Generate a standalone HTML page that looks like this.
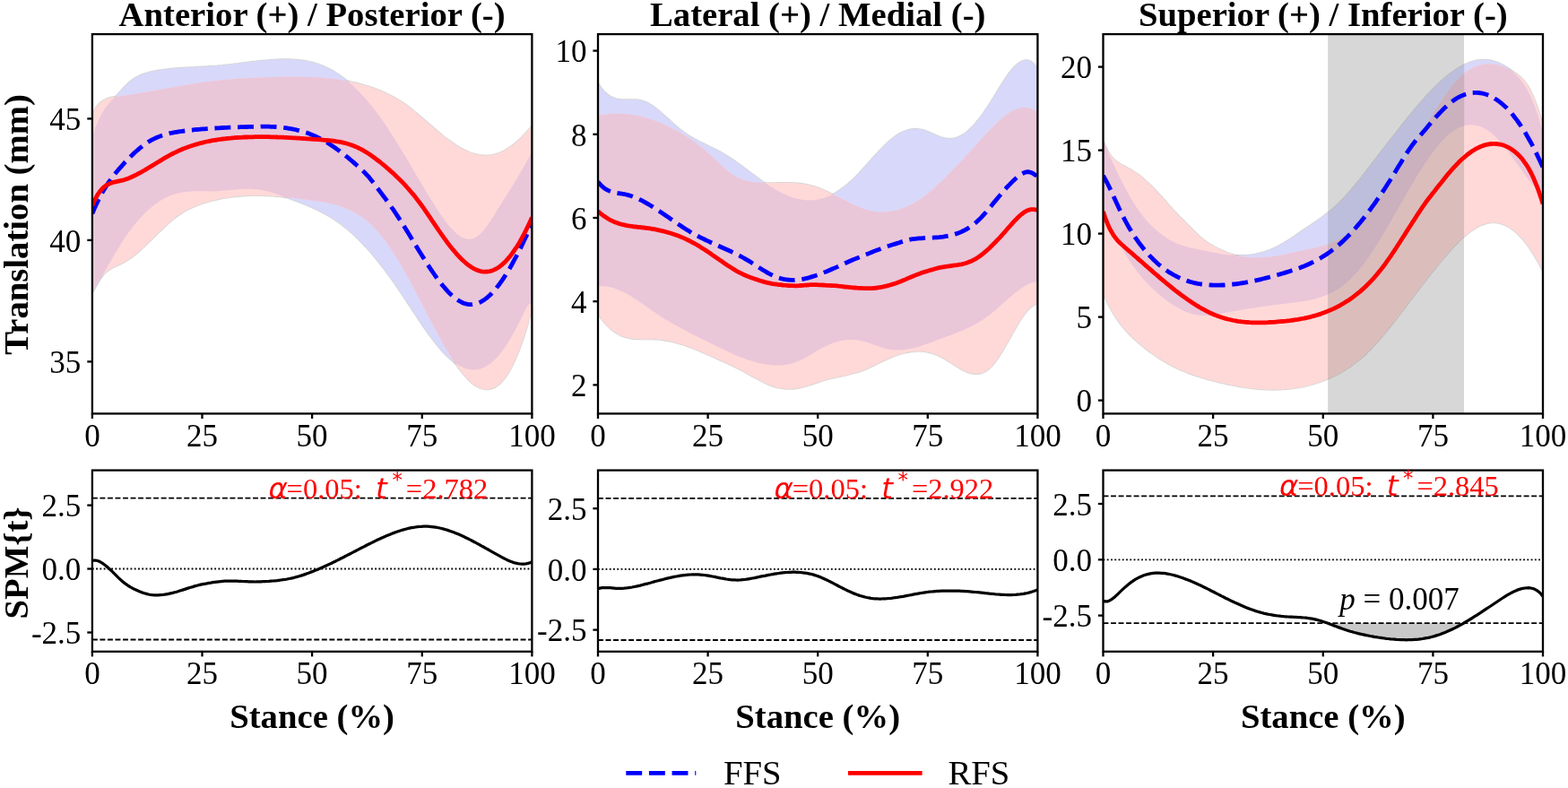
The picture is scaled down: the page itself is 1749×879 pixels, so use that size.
<!DOCTYPE html>
<html lang="en">
<head>
<meta charset="utf-8">
<title>Translation during stance: FFS vs RFS</title>
<style>
html,body{margin:0;padding:0;background:#fff;}
body{width:1749px;height:879px;overflow:hidden;}
svg{display:block;}
</style>
</head>
<body>
<svg width="1749" height="879" viewBox="0 0 1749 879">
<rect width="1749" height="879" fill="#fff"/>
<defs>
<clipPath id="ct0"><rect x="102.9" y="38.1" width="490.5" height="423.3"/></clipPath>
<clipPath id="cb0"><rect x="102.9" y="524.6" width="490.5" height="202.2"/></clipPath>
<clipPath id="ct1"><rect x="667.0" y="38.1" width="490.4" height="423.3"/></clipPath>
<clipPath id="cb1"><rect x="667.0" y="524.6" width="490.4" height="202.2"/></clipPath>
<clipPath id="ct2"><rect x="1230.5" y="38.1" width="490.5" height="423.3"/></clipPath>
<clipPath id="cb2"><rect x="1230.5" y="524.6" width="490.5" height="202.2"/></clipPath>
</defs>
<g>
<defs><path id="bp0" d="M102.9,152.8 L105.8,144.1 L108.7,136.7 L111.6,130.4 L114.5,125.0 L117.4,120.5 L120.3,116.7 L123.2,113.4 L126.1,110.3 L129.0,107.3 L131.9,104.3 L134.8,101.1 L137.7,97.9 L140.6,94.9 L143.5,92.1 L146.4,89.7 L149.3,87.6 L152.2,85.9 L155.1,84.4 L158.0,83.1 L160.9,82.0 L163.8,81.2 L166.8,80.4 L169.7,79.8 L172.6,79.2 L175.5,78.7 L178.4,78.2 L181.3,77.8 L184.2,77.4 L187.1,77.0 L190.0,76.7 L192.9,76.4 L195.8,76.1 L198.7,75.9 L201.6,75.7 L204.5,75.5 L207.4,75.3 L210.3,75.2 L213.2,75.0 L216.1,74.9 L219.0,74.7 L221.9,74.6 L224.8,74.4 L227.7,74.3 L230.6,74.1 L233.5,73.9 L236.4,73.7 L239.3,73.5 L242.2,73.3 L245.1,73.0 L248.0,72.8 L250.9,72.5 L253.8,72.2 L256.7,71.8 L259.6,71.5 L262.5,71.1 L265.4,70.8 L268.3,70.4 L271.2,70.0 L274.1,69.7 L277.0,69.3 L279.9,68.9 L282.8,68.6 L285.7,68.3 L288.7,67.9 L291.6,67.6 L294.5,67.3 L297.4,67.1 L300.3,66.8 L303.2,66.6 L306.1,66.5 L309.0,66.3 L311.9,66.2 L314.8,66.1 L317.7,66.1 L320.6,66.1 L323.5,66.2 L326.4,66.3 L329.3,66.5 L332.2,66.7 L335.1,67.0 L338.0,67.4 L340.9,67.9 L343.8,68.5 L346.7,69.1 L349.6,69.9 L352.5,70.7 L355.4,71.6 L358.3,72.7 L361.2,73.9 L364.1,75.2 L367.0,76.6 L369.9,78.1 L372.8,79.8 L375.7,81.6 L378.6,83.5 L381.5,85.6 L384.4,87.8 L387.3,90.1 L390.2,92.6 L393.1,95.1 L396.0,97.9 L398.9,100.7 L401.8,103.7 L404.7,106.8 L407.6,110.0 L410.6,113.4 L413.5,116.9 L416.4,120.5 L419.3,124.3 L422.2,128.2 L425.1,132.2 L428.0,136.3 L430.9,140.6 L433.8,145.0 L436.7,149.4 L439.6,154.0 L442.5,158.7 L445.4,163.4 L448.3,168.2 L451.2,173.0 L454.1,177.8 L457.0,182.7 L459.9,187.7 L462.8,192.6 L465.7,197.5 L468.6,202.4 L471.5,207.3 L474.4,212.1 L477.3,216.9 L480.2,221.6 L483.1,226.3 L486.0,230.9 L488.9,235.3 L491.8,239.7 L494.7,243.8 L497.6,247.7 L500.5,251.4 L503.4,254.7 L506.3,257.8 L509.2,260.4 L512.1,262.7 L515.0,264.5 L517.9,265.8 L520.8,266.5 L523.7,266.8 L526.6,266.4 L529.5,265.3 L532.5,263.7 L535.4,261.3 L538.3,258.2 L541.2,254.7 L544.1,250.8 L547.0,246.5 L549.9,242.0 L552.8,237.3 L555.7,232.6 L558.6,228.0 L561.5,223.4 L564.4,218.8 L567.3,214.2 L570.2,209.5 L573.1,204.9 L576.0,200.1 L578.9,195.3 L581.8,190.3 L584.7,185.2 L587.6,180.0 L590.5,174.6 L593.4,169.0 L593.4,338.8 L590.5,338.7 L587.6,342.4 L584.7,348.1 L581.8,354.2 L578.9,360.1 L576.0,365.8 L573.1,371.2 L570.2,376.3 L567.3,381.1 L564.4,385.7 L561.5,389.9 L558.6,393.7 L555.7,397.2 L552.8,400.3 L549.9,403.1 L547.0,405.4 L544.1,407.5 L541.2,409.1 L538.3,410.4 L535.4,411.4 L532.5,412.1 L529.5,412.4 L526.6,412.4 L523.7,412.1 L520.8,411.4 L517.9,410.5 L515.0,409.3 L512.1,407.8 L509.2,406.0 L506.3,404.0 L503.4,401.7 L500.5,399.1 L497.6,396.3 L494.7,393.3 L491.8,390.1 L488.9,386.8 L486.0,383.2 L483.1,379.5 L480.2,375.6 L477.3,371.7 L474.4,367.6 L471.5,363.4 L468.6,359.1 L465.7,354.8 L462.8,350.4 L459.9,346.0 L457.0,341.6 L454.1,337.2 L451.2,332.8 L448.3,328.4 L445.4,324.1 L442.5,319.8 L439.6,315.6 L436.7,311.5 L433.8,307.5 L430.9,303.5 L428.0,299.7 L425.1,295.9 L422.2,292.2 L419.3,288.6 L416.4,285.1 L413.5,281.7 L410.6,278.4 L407.6,275.2 L404.7,272.1 L401.8,269.1 L398.9,266.2 L396.0,263.4 L393.1,260.7 L390.2,258.1 L387.3,255.7 L384.4,253.3 L381.5,251.0 L378.6,248.9 L375.7,246.9 L372.8,244.9 L369.9,243.0 L367.0,241.3 L364.1,239.6 L361.2,238.0 L358.3,236.5 L355.4,235.0 L352.5,233.6 L349.6,232.2 L346.7,230.9 L343.8,229.7 L340.9,228.5 L338.0,227.3 L335.1,226.1 L332.2,225.0 L329.3,223.9 L326.4,222.9 L323.5,221.8 L320.6,220.7 L317.7,219.7 L314.8,218.7 L311.9,217.6 L309.0,216.7 L306.1,215.7 L303.2,214.8 L300.3,214.0 L297.4,213.3 L294.5,212.6 L291.6,212.0 L288.7,211.5 L285.7,211.1 L282.8,210.9 L279.9,210.7 L277.0,210.6 L274.1,210.7 L271.2,210.8 L268.3,210.9 L265.4,211.2 L262.5,211.4 L259.6,211.7 L256.7,212.0 L253.8,212.3 L250.9,212.6 L248.0,212.8 L245.1,213.0 L242.2,213.2 L239.3,213.3 L236.4,213.4 L233.5,213.4 L230.6,213.3 L227.7,213.3 L224.8,213.3 L221.9,213.3 L219.0,213.3 L216.1,213.3 L213.2,213.5 L210.3,213.7 L207.4,213.9 L204.5,214.3 L201.6,214.9 L198.7,215.5 L195.8,216.3 L192.9,217.2 L190.0,218.3 L187.1,219.6 L184.2,221.0 L181.3,222.6 L178.4,224.3 L175.5,226.2 L172.6,228.3 L169.7,230.6 L166.8,233.0 L163.8,235.6 L160.9,238.4 L158.0,241.4 L155.1,244.6 L152.2,247.9 L149.3,251.5 L146.4,255.3 L143.5,259.2 L140.6,263.4 L137.7,267.7 L134.8,272.3 L131.9,276.9 L129.0,281.7 L126.1,286.7 L123.2,291.6 L120.3,296.7 L117.4,301.7 L114.5,306.8 L111.6,311.9 L108.7,316.8 L105.8,321.8 L102.9,326.6Z"/><path id="rp0" d="M102.9,126.8 L105.8,121.8 L108.7,117.8 L111.6,114.7 L114.5,112.4 L117.4,110.7 L120.3,109.5 L123.2,108.7 L126.1,108.2 L129.0,107.8 L131.9,107.5 L134.8,107.1 L137.7,106.7 L140.6,106.3 L143.5,105.9 L146.4,105.5 L149.3,105.0 L152.2,104.6 L155.1,104.1 L158.0,103.6 L160.9,103.1 L163.8,102.6 L166.8,102.1 L169.7,101.6 L172.6,101.1 L175.5,100.6 L178.4,100.0 L181.3,99.5 L184.2,99.0 L187.1,98.4 L190.0,97.9 L192.9,97.4 L195.8,96.9 L198.7,96.3 L201.6,95.8 L204.5,95.3 L207.4,94.8 L210.3,94.4 L213.2,93.9 L216.1,93.4 L219.0,93.0 L221.9,92.5 L224.8,92.1 L227.7,91.7 L230.6,91.3 L233.5,90.9 L236.4,90.6 L239.3,90.3 L242.2,89.9 L245.1,89.6 L248.0,89.3 L250.9,89.0 L253.8,88.8 L256.7,88.5 L259.6,88.3 L262.5,88.0 L265.4,87.8 L268.3,87.6 L271.2,87.4 L274.1,87.2 L277.0,87.1 L279.9,86.9 L282.8,86.8 L285.7,86.6 L288.7,86.5 L291.6,86.4 L294.5,86.3 L297.4,86.2 L300.3,86.1 L303.2,86.0 L306.1,86.0 L309.0,85.9 L311.9,85.8 L314.8,85.8 L317.7,85.8 L320.6,85.7 L323.5,85.7 L326.4,85.7 L329.3,85.7 L332.2,85.7 L335.1,85.8 L338.0,85.8 L340.9,85.9 L343.8,86.0 L346.7,86.1 L349.6,86.2 L352.5,86.3 L355.4,86.5 L358.3,86.7 L361.2,86.9 L364.1,87.2 L367.0,87.5 L369.9,87.8 L372.8,88.1 L375.7,88.5 L378.6,88.9 L381.5,89.4 L384.4,89.9 L387.3,90.4 L390.2,90.9 L393.1,91.5 L396.0,92.2 L398.9,92.9 L401.8,93.6 L404.7,94.4 L407.6,95.2 L410.6,96.1 L413.5,97.0 L416.4,98.0 L419.3,99.1 L422.2,100.2 L425.1,101.4 L428.0,102.7 L430.9,104.0 L433.8,105.5 L436.7,107.0 L439.6,108.6 L442.5,110.2 L445.4,112.0 L448.3,113.8 L451.2,115.8 L454.1,117.8 L457.0,120.0 L459.9,122.2 L462.8,124.6 L465.7,126.9 L468.6,129.4 L471.5,131.9 L474.4,134.4 L477.3,136.9 L480.2,139.5 L483.1,142.0 L486.0,144.5 L488.9,147.0 L491.8,149.4 L494.7,151.8 L497.6,154.1 L500.5,156.3 L503.4,158.3 L506.3,160.3 L509.2,162.2 L512.1,164.0 L515.0,165.6 L517.9,167.1 L520.8,168.5 L523.7,169.7 L526.6,170.7 L529.5,171.6 L532.5,172.3 L535.4,172.8 L538.3,173.2 L541.2,173.4 L544.1,173.3 L547.0,173.1 L549.9,172.6 L552.8,171.9 L555.7,171.0 L558.6,169.8 L561.5,168.4 L564.4,166.8 L567.3,165.0 L570.2,163.0 L573.1,160.8 L576.0,158.4 L578.9,155.8 L581.8,153.0 L584.7,150.1 L587.6,147.0 L590.5,143.8 L593.4,140.4 L593.4,344.3 L590.5,355.3 L587.6,365.5 L584.7,374.9 L581.8,383.5 L578.9,391.4 L576.0,398.5 L573.1,405.0 L570.2,410.7 L567.3,415.7 L564.4,420.1 L561.5,423.9 L558.6,427.1 L555.7,429.6 L552.8,431.7 L549.9,433.1 L547.0,434.0 L544.1,434.4 L541.2,434.4 L538.3,433.8 L535.4,432.9 L532.5,431.5 L529.5,429.7 L526.6,427.5 L523.7,424.9 L520.8,422.0 L517.9,418.8 L515.0,415.3 L512.1,411.5 L509.2,407.5 L506.3,403.2 L503.4,398.7 L500.5,394.0 L497.6,389.1 L494.7,384.0 L491.8,378.9 L488.9,373.6 L486.0,368.2 L483.1,362.8 L480.2,357.3 L477.3,351.7 L474.4,346.2 L471.5,340.6 L468.6,335.0 L465.7,329.5 L462.8,324.0 L459.9,318.5 L457.0,313.1 L454.1,307.8 L451.2,302.6 L448.3,297.5 L445.4,292.5 L442.5,287.7 L439.6,283.0 L436.7,278.5 L433.8,274.2 L430.9,270.1 L428.0,266.2 L425.1,262.5 L422.2,259.1 L419.3,255.9 L416.4,252.9 L413.5,250.1 L410.6,247.5 L407.6,245.1 L404.7,242.9 L401.8,240.9 L398.9,239.0 L396.0,237.3 L393.1,235.7 L390.2,234.3 L387.3,232.9 L384.4,231.8 L381.5,230.7 L378.6,229.7 L375.7,228.8 L372.8,228.0 L369.9,227.3 L367.0,226.7 L364.1,226.1 L361.2,225.6 L358.3,225.1 L355.4,224.6 L352.5,224.2 L349.6,223.8 L346.7,223.4 L343.8,223.0 L340.9,222.6 L338.0,222.2 L335.1,221.9 L332.2,221.5 L329.3,221.1 L326.4,220.8 L323.5,220.5 L320.6,220.2 L317.7,219.9 L314.8,219.6 L311.9,219.4 L309.0,219.1 L306.1,218.9 L303.2,218.7 L300.3,218.6 L297.4,218.4 L294.5,218.3 L291.6,218.2 L288.7,218.2 L285.7,218.2 L282.8,218.2 L279.9,218.2 L277.0,218.3 L274.1,218.5 L271.2,218.6 L268.3,218.8 L265.4,219.1 L262.5,219.3 L259.6,219.7 L256.7,220.0 L253.8,220.5 L250.9,220.9 L248.0,221.4 L245.1,222.0 L242.2,222.6 L239.3,223.3 L236.4,224.0 L233.5,224.8 L230.6,225.6 L227.7,226.5 L224.8,227.5 L221.9,228.5 L219.0,229.6 L216.1,230.8 L213.2,232.1 L210.3,233.5 L207.4,235.0 L204.5,236.7 L201.6,238.5 L198.7,240.5 L195.8,242.6 L192.9,244.9 L190.0,247.4 L187.1,249.9 L184.2,252.6 L181.3,255.3 L178.4,258.1 L175.5,261.0 L172.6,263.9 L169.7,266.7 L166.8,269.6 L163.8,272.4 L160.9,275.2 L158.0,277.9 L155.1,280.5 L152.2,283.0 L149.3,285.3 L146.4,287.5 L143.5,289.5 L140.6,291.3 L137.7,292.9 L134.8,294.4 L131.9,295.8 L129.0,297.1 L126.1,298.6 L123.2,300.2 L120.3,302.2 L117.4,304.5 L114.5,307.4 L111.6,310.9 L108.7,315.3 L105.8,320.6 L102.9,327.0Z"/><clipPath id="bb0"><use href="#bp0"/></clipPath></defs>
<g clip-path="url(#ct0)">
<use href="#bp0" fill="none" stroke="#808080" stroke-opacity="0.32" stroke-width="1.7"/>
<use href="#rp0" fill="none" stroke="#808080" stroke-opacity="0.32" stroke-width="1.7"/>
<use href="#bp0" fill="#d8d8fa"/>
<use href="#rp0" fill="#ffd9d8"/>
<g clip-path="url(#bb0)"><use href="#rp0" fill="#eac6d9"/></g>
</g>
<path d="M102.9,238.4 L105.1,233.1 L107.4,228.1 L109.6,223.4 L111.9,219.0 L114.1,214.9 L116.3,211.1 L118.6,207.5 L120.8,204.0 L123.1,200.8 L125.3,197.8 L127.5,194.9 L129.8,192.1 L132.0,189.4 L134.3,186.8 L136.5,184.3 L138.7,181.8 L141.0,179.4 L143.2,177.1 L145.5,174.8 L147.7,172.7 L149.9,170.5 L152.2,168.5 L154.4,166.6 L156.7,164.7 L158.9,163.0 L161.1,161.3 L163.4,159.8 L165.6,158.3 L167.9,156.9 L170.1,155.7 L172.3,154.6 L174.6,153.5 L176.8,152.6 L179.1,151.7 L181.3,151.0 L183.5,150.3 L185.8,149.6 L188.0,149.1 L190.2,148.5 L192.5,148.1 L194.7,147.7 L197.0,147.3 L199.2,146.9 L201.4,146.6 L203.7,146.3 L205.9,146.0 L208.2,145.7 L210.4,145.5 L212.6,145.2 L214.9,145.0 L217.1,144.7 L219.4,144.5 L221.6,144.3 L223.8,144.1 L226.1,143.9 L228.3,143.8 L230.6,143.6 L232.8,143.4 L235.0,143.3 L237.3,143.1 L239.5,143.0 L241.8,142.9 L244.0,142.8 L246.2,142.6 L248.5,142.5 L250.7,142.4 L253.0,142.3 L255.2,142.2 L257.4,142.1 L259.7,142.0 L261.9,142.0 L264.2,141.9 L266.4,141.8 L268.6,141.7 L270.9,141.6 L273.1,141.6 L275.4,141.5 L277.6,141.4 L279.8,141.3 L282.1,141.3 L284.3,141.2 L286.6,141.2 L288.8,141.2 L291.0,141.1 L293.3,141.1 L295.5,141.2 L297.8,141.2 L300.0,141.2 L302.2,141.3 L304.5,141.4 L306.7,141.5 L309.0,141.7 L311.2,141.9 L313.4,142.1 L315.7,142.3 L317.9,142.6 L320.2,142.9 L322.4,143.3 L324.6,143.7 L326.9,144.1 L329.1,144.5 L331.4,145.1 L333.6,145.6 L335.8,146.2 L338.1,146.9 L340.3,147.6 L342.6,148.3 L344.8,149.1 L347.0,150.0 L349.3,150.9 L351.5,151.9 L353.7,153.0 L356.0,154.1 L358.2,155.2 L360.5,156.5 L362.7,157.7 L364.9,159.1 L367.2,160.5 L369.4,161.9 L371.7,163.4 L373.9,165.0 L376.1,166.6 L378.4,168.2 L380.6,169.9 L382.9,171.7 L385.1,173.4 L387.3,175.2 L389.6,177.1 L391.8,179.0 L394.1,180.9 L396.3,182.9 L398.5,184.8 L400.8,186.8 L403.0,188.9 L405.3,191.1 L407.5,193.3 L409.7,195.7 L412.0,198.2 L414.2,200.9 L416.5,203.8 L418.7,206.7 L420.9,209.7 L423.2,212.7 L425.4,215.7 L427.7,218.7 L429.9,221.7 L432.1,224.7 L434.4,227.8 L436.6,231.0 L438.9,234.2 L441.1,237.5 L443.3,240.9 L445.6,244.3 L447.8,247.8 L450.1,251.4 L452.3,255.0 L454.5,258.6 L456.8,262.3 L459.0,265.9 L461.3,269.6 L463.5,273.3 L465.7,277.0 L468.0,280.7 L470.2,284.3 L472.5,287.9 L474.7,291.4 L476.9,294.9 L479.2,298.4 L481.4,301.7 L483.7,305.0 L485.9,308.2 L488.1,311.3 L490.4,314.2 L492.6,317.1 L494.9,319.8 L497.1,322.4 L499.3,324.9 L501.6,327.2 L503.8,329.3 L506.1,331.3 L508.3,333.1 L510.5,334.6 L512.8,336.0 L515.0,337.2 L517.2,338.2 L519.5,338.9 L521.7,339.4 L524.0,339.7 L526.2,339.7 L528.4,339.4 L530.7,339.0 L532.9,338.2 L535.2,337.3 L537.4,336.1 L539.6,334.7 L541.9,333.1 L544.1,331.3 L546.4,329.2 L548.6,327.0 L550.8,324.6 L553.1,322.0 L555.3,319.2 L557.6,316.2 L559.8,313.1 L562.0,309.8 L564.3,306.3 L566.5,302.7 L568.8,298.9 L571.0,295.0 L573.2,290.9 L575.5,286.7 L577.7,282.4 L580.0,278.0 L582.2,273.4 L584.4,268.8 L586.7,264.0 L588.9,259.1 L591.2,254.1 L593.4,249.1" fill="none" stroke="#0000ff" stroke-width="4.8" stroke-linejoin="round" stroke-dasharray="17.9 7.73" clip-path="url(#ct0)"/>
<path d="M102.9,229.4 L105.1,224.3 L107.4,219.8 L109.6,216.1 L111.9,213.0 L114.1,210.4 L116.3,208.4 L118.6,206.7 L120.8,205.5 L123.1,204.5 L125.3,203.7 L127.5,203.2 L129.8,202.7 L132.0,202.2 L134.3,201.7 L136.5,201.2 L138.7,200.5 L141.0,199.7 L143.2,198.9 L145.5,198.0 L147.7,197.0 L149.9,196.0 L152.2,194.9 L154.4,193.7 L156.7,192.5 L158.9,191.2 L161.1,190.0 L163.4,188.6 L165.6,187.3 L167.9,185.9 L170.1,184.6 L172.3,183.2 L174.6,181.8 L176.8,180.5 L179.1,179.1 L181.3,177.7 L183.5,176.4 L185.8,175.1 L188.0,173.9 L190.2,172.7 L192.5,171.5 L194.7,170.4 L197.0,169.3 L199.2,168.2 L201.4,167.3 L203.7,166.3 L205.9,165.4 L208.2,164.6 L210.4,163.7 L212.6,163.0 L214.9,162.2 L217.1,161.5 L219.4,160.9 L221.6,160.2 L223.8,159.6 L226.1,159.1 L228.3,158.5 L230.6,158.0 L232.8,157.6 L235.0,157.1 L237.3,156.7 L239.5,156.3 L241.8,156.0 L244.0,155.6 L246.2,155.3 L248.5,155.0 L250.7,154.8 L253.0,154.5 L255.2,154.3 L257.4,154.1 L259.7,153.9 L261.9,153.7 L264.2,153.5 L266.4,153.4 L268.6,153.3 L270.9,153.1 L273.1,153.0 L275.4,153.0 L277.6,152.9 L279.8,152.8 L282.1,152.8 L284.3,152.7 L286.6,152.7 L288.8,152.7 L291.0,152.7 L293.3,152.7 L295.5,152.7 L297.8,152.7 L300.0,152.7 L302.2,152.8 L304.5,152.8 L306.7,152.9 L309.0,153.0 L311.2,153.1 L313.4,153.1 L315.7,153.2 L317.9,153.3 L320.2,153.4 L322.4,153.6 L324.6,153.7 L326.9,153.8 L329.1,153.9 L331.4,154.1 L333.6,154.2 L335.8,154.3 L338.1,154.5 L340.3,154.6 L342.6,154.8 L344.8,154.9 L347.0,155.1 L349.3,155.3 L351.5,155.4 L353.7,155.6 L356.0,155.7 L358.2,155.9 L360.5,156.1 L362.7,156.3 L364.9,156.5 L367.2,156.7 L369.4,156.9 L371.7,157.2 L373.9,157.5 L376.1,157.9 L378.4,158.2 L380.6,158.7 L382.9,159.2 L385.1,159.7 L387.3,160.3 L389.6,161.0 L391.8,161.7 L394.1,162.6 L396.3,163.5 L398.5,164.4 L400.8,165.5 L403.0,166.7 L405.3,167.9 L407.5,169.2 L409.7,170.6 L412.0,172.1 L414.2,173.6 L416.5,175.2 L418.7,176.8 L420.9,178.5 L423.2,180.2 L425.4,182.0 L427.7,183.9 L429.9,185.7 L432.1,187.6 L434.4,189.6 L436.6,191.6 L438.9,193.6 L441.1,195.7 L443.3,197.9 L445.6,200.1 L447.8,202.3 L450.1,204.7 L452.3,207.0 L454.5,209.5 L456.8,212.1 L459.0,214.7 L461.3,217.4 L463.5,220.1 L465.7,223.0 L468.0,226.0 L470.2,229.0 L472.5,232.2 L474.7,235.4 L476.9,238.6 L479.2,241.9 L481.4,245.3 L483.7,248.6 L485.9,251.9 L488.1,255.2 L490.4,258.5 L492.6,261.7 L494.9,264.9 L497.1,267.9 L499.3,271.0 L501.6,273.9 L503.8,276.7 L506.1,279.4 L508.3,282.1 L510.5,284.6 L512.8,287.0 L515.0,289.2 L517.2,291.3 L519.5,293.3 L521.7,295.1 L524.0,296.8 L526.2,298.3 L528.4,299.6 L530.7,300.7 L532.9,301.6 L535.2,302.3 L537.4,302.8 L539.6,303.1 L541.9,303.2 L544.1,303.0 L546.4,302.6 L548.6,302.0 L550.8,301.1 L553.1,300.0 L555.3,298.7 L557.6,297.2 L559.8,295.4 L562.0,293.4 L564.3,291.2 L566.5,288.7 L568.8,286.0 L571.0,283.1 L573.2,280.0 L575.5,276.7 L577.7,273.2 L580.0,269.4 L582.2,265.4 L584.4,261.3 L586.7,256.9 L588.9,252.3 L591.2,247.5 L593.4,242.5" fill="none" stroke="#ff0000" stroke-width="4.8" stroke-linejoin="round" clip-path="url(#ct0)"/>
<rect x="102.9" y="38.1" width="490.5" height="423.3" fill="none" stroke="#000" stroke-width="2.3"/>
<line x1="102.9" y1="461.4" x2="102.9" y2="467.0" stroke="#000" stroke-width="2.3"/>
<text x="102.9" y="497.6" font-family='"Liberation Serif", serif' font-size="35" font-weight="normal" font-style="normal" text-anchor="middle" fill="#000">0</text>
<line x1="225.5" y1="461.4" x2="225.5" y2="467.0" stroke="#000" stroke-width="2.3"/>
<text x="225.5" y="497.6" font-family='"Liberation Serif", serif' font-size="35" font-weight="normal" font-style="normal" text-anchor="middle" fill="#000">25</text>
<line x1="348.1" y1="461.4" x2="348.1" y2="467.0" stroke="#000" stroke-width="2.3"/>
<text x="348.1" y="497.6" font-family='"Liberation Serif", serif' font-size="35" font-weight="normal" font-style="normal" text-anchor="middle" fill="#000">50</text>
<line x1="470.8" y1="461.4" x2="470.8" y2="467.0" stroke="#000" stroke-width="2.3"/>
<text x="470.8" y="497.6" font-family='"Liberation Serif", serif' font-size="35" font-weight="normal" font-style="normal" text-anchor="middle" fill="#000">75</text>
<line x1="593.4" y1="461.4" x2="593.4" y2="467.0" stroke="#000" stroke-width="2.3"/>
<text x="593.4" y="497.6" font-family='"Liberation Serif", serif' font-size="35" font-weight="normal" font-style="normal" text-anchor="middle" fill="#000">100</text>
<line x1="97.3" y1="403.4" x2="102.9" y2="403.4" stroke="#000" stroke-width="2.3"/>
<text x="90.3" y="416.2" font-family='"Liberation Serif", serif' font-size="35" font-weight="normal" font-style="normal" text-anchor="end" fill="#000">35</text>
<line x1="97.3" y1="267.9" x2="102.9" y2="267.9" stroke="#000" stroke-width="2.3"/>
<text x="90.3" y="280.7" font-family='"Liberation Serif", serif' font-size="35" font-weight="normal" font-style="normal" text-anchor="end" fill="#000">40</text>
<line x1="97.3" y1="132.4" x2="102.9" y2="132.4" stroke="#000" stroke-width="2.3"/>
<text x="90.3" y="145.2" font-family='"Liberation Serif", serif' font-size="35" font-weight="normal" font-style="normal" text-anchor="end" fill="#000">45</text>
<text x="348.1" y="29.3" font-family='"Liberation Serif", serif' font-size="38.7" font-weight="bold" font-style="normal" text-anchor="middle" fill="#000">Anterior (+) / Posterior (-)</text>
</g>
<g>
<line x1="102.9" y1="634.5" x2="593.4" y2="634.5" stroke="#000" stroke-width="1.85" stroke-dasharray="1.85 2.41"/>
<line x1="102.9" y1="555.6" x2="593.4" y2="555.6" stroke="#000" stroke-width="1.8" stroke-dasharray="5.95 2.58"/>
<line x1="102.9" y1="713.5" x2="593.4" y2="713.5" stroke="#000" stroke-width="1.8" stroke-dasharray="5.95 2.58"/>
<path d="M102.9,625.3 L105.1,625.0 L107.4,625.2 L109.6,625.8 L111.9,626.8 L114.1,628.1 L116.3,629.7 L118.6,631.5 L120.8,633.5 L123.1,635.5 L125.3,637.7 L127.5,639.9 L129.8,642.2 L132.0,644.4 L134.3,646.5 L136.5,648.4 L138.7,650.3 L141.0,651.9 L143.2,653.5 L145.5,654.9 L147.7,656.1 L149.9,657.3 L152.2,658.3 L154.4,659.3 L156.7,660.2 L158.9,661.1 L161.1,661.8 L163.4,662.4 L165.6,663.0 L167.9,663.4 L170.1,663.7 L172.3,663.9 L174.6,663.9 L176.8,663.9 L179.1,663.7 L181.3,663.5 L183.5,663.2 L185.8,662.8 L188.0,662.4 L190.2,661.9 L192.5,661.4 L194.7,660.8 L197.0,660.2 L199.2,659.5 L201.4,658.8 L203.7,658.1 L205.9,657.4 L208.2,656.6 L210.4,655.9 L212.6,655.2 L214.9,654.6 L217.1,653.9 L219.4,653.3 L221.6,652.7 L223.8,652.2 L226.1,651.7 L228.3,651.3 L230.6,650.9 L232.8,650.4 L235.0,650.1 L237.3,649.7 L239.5,649.4 L241.8,649.1 L244.0,648.8 L246.2,648.6 L248.5,648.4 L250.7,648.2 L253.0,648.1 L255.2,648.1 L257.4,648.0 L259.7,648.1 L261.9,648.1 L264.2,648.2 L266.4,648.3 L268.6,648.4 L270.9,648.5 L273.1,648.6 L275.4,648.7 L277.6,648.8 L279.8,648.9 L282.1,648.9 L284.3,649.0 L286.6,648.9 L288.8,648.9 L291.0,648.8 L293.3,648.7 L295.5,648.6 L297.8,648.5 L300.0,648.4 L302.2,648.2 L304.5,648.0 L306.7,647.8 L309.0,647.6 L311.2,647.3 L313.4,647.0 L315.7,646.7 L317.9,646.4 L320.2,646.0 L322.4,645.5 L324.6,645.1 L326.9,644.6 L329.1,644.0 L331.4,643.4 L333.6,642.8 L335.8,642.1 L338.1,641.4 L340.3,640.6 L342.6,639.8 L344.8,639.0 L347.0,638.1 L349.3,637.3 L351.5,636.3 L353.7,635.4 L356.0,634.5 L358.2,633.5 L360.5,632.5 L362.7,631.5 L364.9,630.5 L367.2,629.4 L369.4,628.4 L371.7,627.3 L373.9,626.2 L376.1,625.1 L378.4,624.0 L380.6,622.8 L382.9,621.7 L385.1,620.5 L387.3,619.4 L389.6,618.2 L391.8,617.1 L394.1,615.9 L396.3,614.8 L398.5,613.6 L400.8,612.4 L403.0,611.3 L405.3,610.1 L407.5,609.0 L409.7,607.8 L412.0,606.7 L414.2,605.6 L416.5,604.5 L418.7,603.4 L420.9,602.3 L423.2,601.3 L425.4,600.2 L427.7,599.2 L429.9,598.2 L432.1,597.3 L434.4,596.4 L436.6,595.5 L438.9,594.6 L441.1,593.8 L443.3,593.0 L445.6,592.2 L447.8,591.5 L450.1,590.9 L452.3,590.3 L454.5,589.7 L456.8,589.2 L459.0,588.7 L461.3,588.3 L463.5,588.0 L465.7,587.7 L468.0,587.5 L470.2,587.3 L472.5,587.2 L474.7,587.2 L476.9,587.2 L479.2,587.4 L481.4,587.6 L483.7,587.8 L485.9,588.1 L488.1,588.5 L490.4,589.0 L492.6,589.5 L494.9,590.1 L497.1,590.7 L499.3,591.4 L501.6,592.2 L503.8,593.0 L506.1,593.8 L508.3,594.7 L510.5,595.6 L512.8,596.6 L515.0,597.6 L517.2,598.6 L519.5,599.7 L521.7,600.8 L524.0,601.9 L526.2,603.0 L528.4,604.2 L530.7,605.4 L532.9,606.6 L535.2,607.8 L537.4,609.1 L539.6,610.3 L541.9,611.6 L544.1,612.8 L546.4,614.1 L548.6,615.4 L550.8,616.6 L553.1,617.9 L555.3,619.1 L557.6,620.4 L559.8,621.6 L562.0,622.8 L564.3,623.9 L566.5,625.0 L568.8,625.9 L571.0,626.8 L573.2,627.6 L575.5,628.2 L577.7,628.7 L580.0,629.0 L582.2,629.1 L584.4,629.1 L586.7,628.9 L588.9,628.4 L591.2,627.7 L593.4,626.7" fill="none" stroke="#000" stroke-width="3.25" stroke-linejoin="round" clip-path="url(#cb0)"/>
<rect x="102.9" y="524.6" width="490.5" height="202.2" fill="none" stroke="#000" stroke-width="2.3"/>
<line x1="102.9" y1="726.8" x2="102.9" y2="732.4" stroke="#000" stroke-width="2.3"/>
<text x="102.9" y="763.0" font-family='"Liberation Serif", serif' font-size="35" font-weight="normal" font-style="normal" text-anchor="middle" fill="#000">0</text>
<line x1="225.5" y1="726.8" x2="225.5" y2="732.4" stroke="#000" stroke-width="2.3"/>
<text x="225.5" y="763.0" font-family='"Liberation Serif", serif' font-size="35" font-weight="normal" font-style="normal" text-anchor="middle" fill="#000">25</text>
<line x1="348.1" y1="726.8" x2="348.1" y2="732.4" stroke="#000" stroke-width="2.3"/>
<text x="348.1" y="763.0" font-family='"Liberation Serif", serif' font-size="35" font-weight="normal" font-style="normal" text-anchor="middle" fill="#000">50</text>
<line x1="470.8" y1="726.8" x2="470.8" y2="732.4" stroke="#000" stroke-width="2.3"/>
<text x="470.8" y="763.0" font-family='"Liberation Serif", serif' font-size="35" font-weight="normal" font-style="normal" text-anchor="middle" fill="#000">75</text>
<line x1="593.4" y1="726.8" x2="593.4" y2="732.4" stroke="#000" stroke-width="2.3"/>
<text x="593.4" y="763.0" font-family='"Liberation Serif", serif' font-size="35" font-weight="normal" font-style="normal" text-anchor="middle" fill="#000">100</text>
<line x1="97.3" y1="563.6" x2="102.9" y2="563.6" stroke="#000" stroke-width="2.3"/>
<text x="90.3" y="576.4" font-family='"Liberation Serif", serif' font-size="35" font-weight="normal" font-style="normal" text-anchor="end" fill="#000">2.5</text>
<line x1="97.3" y1="634.5" x2="102.9" y2="634.5" stroke="#000" stroke-width="2.3"/>
<text x="90.3" y="647.3" font-family='"Liberation Serif", serif' font-size="35" font-weight="normal" font-style="normal" text-anchor="end" fill="#000">0.0</text>
<line x1="97.3" y1="705.5" x2="102.9" y2="705.5" stroke="#000" stroke-width="2.3"/>
<text x="90.3" y="718.3" font-family='"Liberation Serif", serif' font-size="35" font-weight="normal" font-style="normal" text-anchor="end" fill="#000">-2.5</text>
<g fill="#ff0000" font-size="32.5" font-family='"Liberation Serif", serif'>
<text x="299.5" y="555.6" font-family='"DejaVu Sans", "Liberation Sans", sans-serif' font-style="italic" font-size="32.5">α</text>
<text x="319.6" y="555.6">=0.05:</text>
<text x="419.1" y="555.6" font-family='"DejaVu Sans", "Liberation Sans", sans-serif' font-style="italic" font-size="32.5">t</text>
<text x="437.4" y="543.1" font-family='"DejaVu Sans", "Liberation Sans", sans-serif' font-size="22.75">*</text>
<text x="452.8" y="555.6">=2.782</text>
</g>
<text x="348.1" y="811.5" font-family='"Liberation Serif", serif' font-size="38.7" font-weight="bold" font-style="normal" text-anchor="middle" fill="#000">Stance (%)</text>
</g>
<g>
<defs><path id="bp1" d="M667.0,92.4 L669.9,96.8 L672.8,100.5 L675.7,103.5 L678.6,105.9 L681.5,107.7 L684.4,109.1 L687.3,110.0 L690.2,110.6 L693.1,111.0 L696.0,111.1 L698.9,111.1 L701.8,111.0 L704.7,111.0 L707.6,111.0 L710.5,111.2 L713.4,111.5 L716.3,112.2 L719.2,113.2 L722.1,114.5 L725.0,116.1 L727.9,118.0 L730.8,120.0 L733.7,122.3 L736.6,124.7 L739.5,127.3 L742.4,129.9 L745.3,132.5 L748.2,135.2 L751.2,137.8 L754.1,140.4 L757.0,142.9 L759.9,145.3 L762.8,147.4 L765.7,149.5 L768.6,151.4 L771.5,153.1 L774.4,154.8 L777.3,156.3 L780.2,157.8 L783.1,159.2 L786.0,160.6 L788.9,162.0 L791.8,163.4 L794.7,164.8 L797.6,166.2 L800.5,167.7 L803.4,169.3 L806.3,170.9 L809.2,172.7 L812.1,174.5 L815.0,176.4 L817.9,178.3 L820.8,180.4 L823.7,182.4 L826.6,184.5 L829.5,186.7 L832.4,188.8 L835.3,191.0 L838.2,193.1 L841.1,195.3 L844.0,197.4 L846.9,199.5 L849.8,201.6 L852.7,203.6 L855.6,205.6 L858.5,207.5 L861.4,209.3 L864.3,211.0 L867.2,212.7 L870.1,214.3 L873.0,215.7 L875.9,217.0 L878.8,218.3 L881.7,219.4 L884.6,220.4 L887.5,221.2 L890.4,221.9 L893.3,222.5 L896.2,223.0 L899.1,223.2 L902.0,223.4 L904.9,223.3 L907.8,223.2 L910.7,222.8 L913.7,222.3 L916.6,221.5 L919.5,220.7 L922.4,219.6 L925.3,218.4 L928.2,217.0 L931.1,215.4 L934.0,213.7 L936.9,211.8 L939.8,209.7 L942.7,207.5 L945.6,205.1 L948.5,202.5 L951.4,199.8 L954.3,197.0 L957.2,194.0 L960.1,190.9 L963.0,187.8 L965.9,184.6 L968.8,181.3 L971.7,178.1 L974.6,174.9 L977.5,171.7 L980.4,168.6 L983.3,165.5 L986.2,162.6 L989.1,159.8 L992.0,157.2 L994.9,154.7 L997.8,152.5 L1000.7,150.5 L1003.6,148.7 L1006.5,147.2 L1009.4,146.0 L1012.3,145.0 L1015.2,144.3 L1018.1,143.9 L1021.0,143.7 L1023.9,143.9 L1026.8,144.3 L1029.7,144.9 L1032.6,145.8 L1035.5,147.0 L1038.4,148.2 L1041.3,149.6 L1044.2,150.9 L1047.1,152.1 L1050.0,153.1 L1052.9,153.9 L1055.8,154.4 L1058.7,154.7 L1061.6,154.5 L1064.5,154.1 L1067.4,153.3 L1070.3,152.1 L1073.2,150.5 L1076.2,148.6 L1079.1,146.3 L1082.0,143.7 L1084.9,140.8 L1087.8,137.6 L1090.7,134.1 L1093.6,130.4 L1096.5,126.5 L1099.4,122.3 L1102.3,117.9 L1105.2,113.4 L1108.1,108.7 L1111.0,103.9 L1113.9,99.2 L1116.8,94.5 L1119.7,90.0 L1122.6,85.6 L1125.5,81.6 L1128.4,77.9 L1131.3,74.7 L1134.2,71.9 L1137.1,69.7 L1140.0,68.1 L1142.9,67.2 L1145.8,67.1 L1148.7,67.9 L1151.6,69.7 L1154.5,72.6 L1157.4,76.7 L1157.4,314.0 L1154.5,314.4 L1151.6,315.2 L1148.7,316.2 L1145.8,317.6 L1142.9,319.2 L1140.0,321.0 L1137.1,323.0 L1134.2,325.2 L1131.3,327.5 L1128.4,329.9 L1125.5,332.5 L1122.6,335.0 L1119.7,337.6 L1116.8,340.2 L1113.9,342.8 L1111.0,345.4 L1108.1,347.8 L1105.2,350.2 L1102.3,352.4 L1099.4,354.5 L1096.5,356.4 L1093.6,358.3 L1090.7,360.0 L1087.8,361.7 L1084.9,363.2 L1082.0,364.7 L1079.1,366.1 L1076.2,367.5 L1073.2,368.7 L1070.3,370.0 L1067.4,371.1 L1064.5,372.3 L1061.6,373.4 L1058.7,374.5 L1055.8,375.5 L1052.9,376.6 L1050.0,377.7 L1047.1,378.8 L1044.2,379.8 L1041.3,380.9 L1038.4,382.0 L1035.5,383.1 L1032.6,384.1 L1029.7,385.1 L1026.8,386.0 L1023.9,386.9 L1021.0,387.7 L1018.1,388.5 L1015.2,389.1 L1012.3,389.6 L1009.4,390.1 L1006.5,390.4 L1003.6,390.6 L1000.7,390.6 L997.8,390.5 L994.9,390.3 L992.0,389.8 L989.1,389.2 L986.2,388.5 L983.3,387.6 L980.4,386.6 L977.5,385.5 L974.6,384.5 L971.7,383.4 L968.8,382.4 L965.9,381.5 L963.0,380.7 L960.1,380.0 L957.2,379.5 L954.3,379.2 L951.4,379.0 L948.5,379.0 L945.6,379.1 L942.7,379.4 L939.8,379.8 L936.9,380.4 L934.0,381.1 L931.1,382.0 L928.2,383.0 L925.3,384.1 L922.4,385.4 L919.5,386.8 L916.6,388.4 L913.7,390.0 L910.7,391.7 L907.8,393.5 L904.9,395.2 L902.0,396.9 L899.1,398.6 L896.2,400.2 L893.3,401.6 L890.4,402.9 L887.5,404.0 L884.6,405.0 L881.7,405.8 L878.8,406.4 L875.9,406.8 L873.0,407.2 L870.1,407.4 L867.2,407.4 L864.3,407.4 L861.4,407.2 L858.5,406.9 L855.6,406.6 L852.7,406.1 L849.8,405.6 L846.9,404.9 L844.0,404.2 L841.1,403.4 L838.2,402.6 L835.3,401.7 L832.4,400.7 L829.5,399.6 L826.6,398.5 L823.7,397.4 L820.8,396.2 L817.9,394.9 L815.0,393.6 L812.1,392.3 L809.2,391.0 L806.3,389.6 L803.4,388.2 L800.5,386.8 L797.6,385.4 L794.7,384.0 L791.8,382.5 L788.9,381.1 L786.0,379.6 L783.1,378.2 L780.2,376.8 L777.3,375.3 L774.4,373.8 L771.5,372.4 L768.6,370.9 L765.7,369.3 L762.8,367.8 L759.9,366.2 L757.0,364.7 L754.1,363.0 L751.2,361.4 L748.2,359.7 L745.3,358.0 L742.4,356.2 L739.5,354.4 L736.6,352.6 L733.7,350.7 L730.8,348.7 L727.9,346.7 L725.0,344.7 L722.1,342.7 L719.2,340.7 L716.3,338.7 L713.4,336.7 L710.5,334.7 L707.6,332.9 L704.7,331.0 L701.8,329.3 L698.9,327.6 L696.0,326.1 L693.1,324.7 L690.2,323.4 L687.3,322.3 L684.4,321.3 L681.5,320.5 L678.6,319.8 L675.7,319.4 L672.8,319.2 L669.9,319.2 L667.0,319.5Z"/><path id="rp1" d="M667.0,129.1 L669.9,128.5 L672.8,128.0 L675.7,127.6 L678.6,127.2 L681.5,127.0 L684.4,126.8 L687.3,126.7 L690.2,126.7 L693.1,126.8 L696.0,127.0 L698.9,127.2 L701.8,127.5 L704.7,127.9 L707.6,128.4 L710.5,129.0 L713.4,129.6 L716.3,130.3 L719.2,131.1 L722.1,131.9 L725.0,132.8 L727.9,133.8 L730.8,134.8 L733.7,136.0 L736.6,137.1 L739.5,138.4 L742.4,139.7 L745.3,141.0 L748.2,142.4 L751.2,143.9 L754.1,145.4 L757.0,147.0 L759.9,148.7 L762.8,150.4 L765.7,152.2 L768.6,154.1 L771.5,156.0 L774.4,158.1 L777.3,160.2 L780.2,162.4 L783.1,164.7 L786.0,167.2 L788.9,169.7 L791.8,172.3 L794.7,175.0 L797.6,177.8 L800.5,180.6 L803.4,183.3 L806.3,186.0 L809.2,188.6 L812.1,191.0 L815.0,193.2 L817.9,195.2 L820.8,196.9 L823.7,198.4 L826.6,199.6 L829.5,200.7 L832.4,201.6 L835.3,202.3 L838.2,202.8 L841.1,203.3 L844.0,203.6 L846.9,203.8 L849.8,203.9 L852.7,204.0 L855.6,204.0 L858.5,204.0 L861.4,204.0 L864.3,204.0 L867.2,203.9 L870.1,203.9 L873.0,203.8 L875.9,203.8 L878.8,203.8 L881.7,203.9 L884.6,204.0 L887.5,204.2 L890.4,204.4 L893.3,204.7 L896.2,205.1 L899.1,205.7 L902.0,206.3 L904.9,207.0 L907.8,207.9 L910.7,208.8 L913.7,209.9 L916.6,211.0 L919.5,212.2 L922.4,213.5 L925.3,214.9 L928.2,216.3 L931.1,217.7 L934.0,219.2 L936.9,220.6 L939.8,222.1 L942.7,223.6 L945.6,225.1 L948.5,226.5 L951.4,227.9 L954.3,229.2 L957.2,230.5 L960.1,231.6 L963.0,232.7 L965.9,233.7 L968.8,234.5 L971.7,235.2 L974.6,235.8 L977.5,236.2 L980.4,236.4 L983.3,236.5 L986.2,236.4 L989.1,236.2 L992.0,235.9 L994.9,235.5 L997.8,235.0 L1000.7,234.3 L1003.6,233.4 L1006.5,232.4 L1009.4,231.3 L1012.3,230.0 L1015.2,228.7 L1018.1,227.2 L1021.0,225.5 L1023.9,223.8 L1026.8,221.9 L1029.7,219.9 L1032.6,217.7 L1035.5,215.4 L1038.4,212.9 L1041.3,210.4 L1044.2,207.8 L1047.1,205.1 L1050.0,202.4 L1052.9,199.6 L1055.8,196.7 L1058.7,193.8 L1061.6,190.8 L1064.5,187.8 L1067.4,184.8 L1070.3,181.7 L1073.2,178.7 L1076.2,175.5 L1079.1,172.3 L1082.0,169.1 L1084.9,165.9 L1087.8,162.6 L1090.7,159.4 L1093.6,156.1 L1096.5,153.0 L1099.4,149.8 L1102.3,146.8 L1105.2,143.8 L1108.1,140.9 L1111.0,138.0 L1113.9,135.3 L1116.8,132.7 L1119.7,130.3 L1122.6,128.0 L1125.5,126.0 L1128.4,124.2 L1131.3,122.7 L1134.2,121.5 L1137.1,120.7 L1140.0,120.1 L1142.9,119.9 L1145.8,120.1 L1148.7,120.7 L1151.6,121.7 L1154.5,123.1 L1157.4,125.1 L1157.4,339.0 L1154.5,339.8 L1151.6,341.4 L1148.7,343.8 L1145.8,346.8 L1142.9,350.4 L1140.0,354.4 L1137.1,358.9 L1134.2,363.7 L1131.3,368.7 L1128.4,373.8 L1125.5,379.0 L1122.6,384.2 L1119.7,389.2 L1116.8,394.0 L1113.9,398.6 L1111.0,402.8 L1108.1,406.5 L1105.2,409.7 L1102.3,412.3 L1099.4,414.2 L1096.5,415.7 L1093.6,416.6 L1090.7,417.1 L1087.8,417.1 L1084.9,416.8 L1082.0,416.1 L1079.1,415.1 L1076.2,413.9 L1073.2,412.4 L1070.3,410.8 L1067.4,409.1 L1064.5,407.3 L1061.6,405.4 L1058.7,403.5 L1055.8,401.7 L1052.9,400.0 L1050.0,398.4 L1047.1,396.9 L1044.2,395.7 L1041.3,394.6 L1038.4,393.8 L1035.5,393.1 L1032.6,392.5 L1029.7,392.2 L1026.8,392.0 L1023.9,391.9 L1021.0,392.0 L1018.1,392.3 L1015.2,392.6 L1012.3,393.1 L1009.4,393.7 L1006.5,394.5 L1003.6,395.3 L1000.7,396.3 L997.8,397.3 L994.9,398.4 L992.0,399.6 L989.1,400.9 L986.2,402.3 L983.3,403.7 L980.4,405.1 L977.5,406.5 L974.6,407.9 L971.7,409.3 L968.8,410.6 L965.9,411.9 L963.0,413.1 L960.1,414.1 L957.2,415.1 L954.3,416.0 L951.4,416.8 L948.5,417.5 L945.6,418.2 L942.7,418.9 L939.8,419.5 L936.9,420.1 L934.0,420.7 L931.1,421.3 L928.2,422.0 L925.3,422.7 L922.4,423.4 L919.5,424.3 L916.6,425.2 L913.7,426.1 L910.7,427.1 L907.8,428.1 L904.9,429.1 L902.0,430.0 L899.1,430.9 L896.2,431.8 L893.3,432.5 L890.4,433.1 L887.5,433.5 L884.6,433.8 L881.7,434.0 L878.8,434.0 L875.9,433.8 L873.0,433.5 L870.1,433.0 L867.2,432.4 L864.3,431.6 L861.4,430.7 L858.5,429.6 L855.6,428.4 L852.7,427.1 L849.8,425.6 L846.9,424.1 L844.0,422.6 L841.1,421.0 L838.2,419.4 L835.3,417.7 L832.4,416.2 L829.5,414.6 L826.6,413.1 L823.7,411.6 L820.8,410.1 L817.9,408.7 L815.0,407.3 L812.1,405.9 L809.2,404.6 L806.3,403.2 L803.4,401.9 L800.5,400.6 L797.6,399.3 L794.7,398.0 L791.8,396.7 L788.9,395.4 L786.0,394.2 L783.1,392.9 L780.2,391.7 L777.3,390.5 L774.4,389.3 L771.5,388.2 L768.6,387.1 L765.7,386.0 L762.8,385.0 L759.9,384.1 L757.0,383.2 L754.1,382.4 L751.2,381.6 L748.2,380.9 L745.3,380.3 L742.4,379.8 L739.5,379.3 L736.6,379.0 L733.7,378.7 L730.8,378.6 L727.9,378.5 L725.0,378.5 L722.1,378.5 L719.2,378.5 L716.3,378.5 L713.4,378.5 L710.5,378.3 L707.6,378.1 L704.7,377.8 L701.8,377.2 L698.9,376.6 L696.0,375.7 L693.1,374.6 L690.2,373.2 L687.3,371.6 L684.4,369.6 L681.5,367.4 L678.6,364.7 L675.7,361.7 L672.8,358.3 L669.9,354.5 L667.0,350.2Z"/><clipPath id="bb1"><use href="#bp1"/></clipPath></defs>
<g clip-path="url(#ct1)">
<use href="#bp1" fill="none" stroke="#808080" stroke-opacity="0.32" stroke-width="1.7"/>
<use href="#rp1" fill="none" stroke="#808080" stroke-opacity="0.32" stroke-width="1.7"/>
<use href="#bp1" fill="#d8d8fa"/>
<use href="#rp1" fill="#ffd9d8"/>
<g clip-path="url(#bb1)"><use href="#rp1" fill="#eac6d9"/></g>
</g>
<path d="M667.0,202.7 L669.2,205.5 L671.5,207.7 L673.7,209.6 L676.0,211.2 L678.2,212.4 L680.4,213.3 L682.7,214.1 L684.9,214.7 L687.2,215.1 L689.4,215.5 L691.6,215.8 L693.9,216.2 L696.1,216.5 L698.3,217.0 L700.6,217.6 L702.8,218.3 L705.1,219.0 L707.3,219.9 L709.5,220.8 L711.8,221.8 L714.0,222.8 L716.3,223.9 L718.5,225.1 L720.7,226.4 L723.0,227.7 L725.2,229.0 L727.5,230.4 L729.7,231.8 L731.9,233.2 L734.2,234.7 L736.4,236.2 L738.7,237.7 L740.9,239.2 L743.1,240.8 L745.4,242.3 L747.6,243.9 L749.9,245.4 L752.1,247.0 L754.3,248.5 L756.6,250.1 L758.8,251.6 L761.0,253.1 L763.3,254.5 L765.5,255.9 L767.8,257.3 L770.0,258.7 L772.2,260.0 L774.5,261.3 L776.7,262.5 L779.0,263.7 L781.2,264.8 L783.4,265.9 L785.7,267.0 L787.9,268.1 L790.2,269.1 L792.4,270.2 L794.6,271.2 L796.9,272.2 L799.1,273.2 L801.4,274.2 L803.6,275.2 L805.8,276.2 L808.1,277.2 L810.3,278.2 L812.6,279.2 L814.8,280.2 L817.0,281.3 L819.3,282.4 L821.5,283.5 L823.7,284.6 L826.0,285.8 L828.2,287.0 L830.5,288.3 L832.7,289.6 L834.9,290.9 L837.2,292.3 L839.4,293.7 L841.7,295.2 L843.9,296.6 L846.1,298.1 L848.4,299.5 L850.6,300.9 L852.9,302.3 L855.1,303.6 L857.3,304.9 L859.6,306.1 L861.8,307.2 L864.1,308.2 L866.3,309.1 L868.5,309.9 L870.8,310.6 L873.0,311.2 L875.3,311.6 L877.5,312.0 L879.7,312.2 L882.0,312.4 L884.2,312.4 L886.4,312.4 L888.7,312.2 L890.9,312.0 L893.2,311.7 L895.4,311.3 L897.6,310.9 L899.9,310.3 L902.1,309.8 L904.4,309.1 L906.6,308.4 L908.8,307.7 L911.1,307.0 L913.3,306.2 L915.6,305.4 L917.8,304.5 L920.0,303.6 L922.3,302.7 L924.5,301.8 L926.8,300.8 L929.0,299.8 L931.2,298.9 L933.5,297.9 L935.7,296.9 L938.0,295.8 L940.2,294.8 L942.4,293.8 L944.7,292.8 L946.9,291.8 L949.1,290.8 L951.4,289.8 L953.6,288.9 L955.9,288.0 L958.1,287.1 L960.3,286.2 L962.6,285.3 L964.8,284.4 L967.1,283.5 L969.3,282.6 L971.5,281.7 L973.8,280.8 L976.0,279.9 L978.3,279.0 L980.5,278.2 L982.7,277.3 L985.0,276.5 L987.2,275.7 L989.5,274.9 L991.7,274.2 L993.9,273.5 L996.2,272.8 L998.4,272.1 L1000.7,271.4 L1002.9,270.7 L1005.1,269.9 L1007.4,269.2 L1009.6,268.5 L1011.8,267.9 L1014.1,267.4 L1016.3,266.9 L1018.6,266.6 L1020.8,266.3 L1023.0,266.1 L1025.3,265.9 L1027.5,265.8 L1029.8,265.6 L1032.0,265.5 L1034.2,265.4 L1036.5,265.3 L1038.7,265.2 L1041.0,265.1 L1043.2,264.9 L1045.4,264.8 L1047.7,264.6 L1049.9,264.3 L1052.2,264.1 L1054.4,263.7 L1056.6,263.3 L1058.9,262.9 L1061.1,262.4 L1063.4,261.8 L1065.6,261.1 L1067.8,260.4 L1070.1,259.5 L1072.3,258.6 L1074.5,257.5 L1076.8,256.4 L1079.0,255.1 L1081.3,253.7 L1083.5,252.2 L1085.7,250.5 L1088.0,248.7 L1090.2,246.7 L1092.5,244.6 L1094.7,242.4 L1096.9,239.9 L1099.2,237.4 L1101.4,234.8 L1103.7,232.1 L1105.9,229.4 L1108.1,226.6 L1110.4,223.9 L1112.6,221.2 L1114.9,218.5 L1117.1,215.8 L1119.3,213.2 L1121.6,210.7 L1123.8,208.2 L1126.1,205.9 L1128.3,203.6 L1130.5,201.4 L1132.8,199.3 L1135.0,197.4 L1137.2,195.6 L1139.5,194.1 L1141.7,193.0 L1144.0,192.1 L1146.2,191.7 L1148.4,191.9 L1150.7,192.7 L1152.9,193.9 L1155.2,195.4 L1157.4,197.1" fill="none" stroke="#0000ff" stroke-width="4.8" stroke-linejoin="round" stroke-dasharray="17.9 7.73" clip-path="url(#ct1)"/>
<path d="M667.0,235.6 L669.2,237.6 L671.5,239.4 L673.7,241.1 L676.0,242.6 L678.2,244.0 L680.4,245.3 L682.7,246.4 L684.9,247.4 L687.2,248.3 L689.4,249.1 L691.6,249.8 L693.9,250.4 L696.1,250.9 L698.3,251.4 L700.6,251.8 L702.8,252.1 L705.1,252.5 L707.3,252.8 L709.5,253.0 L711.8,253.3 L714.0,253.5 L716.3,253.8 L718.5,254.0 L720.7,254.3 L723.0,254.6 L725.2,254.9 L727.5,255.3 L729.7,255.7 L731.9,256.1 L734.2,256.6 L736.4,257.1 L738.7,257.6 L740.9,258.1 L743.1,258.7 L745.4,259.4 L747.6,260.0 L749.9,260.7 L752.1,261.5 L754.3,262.3 L756.6,263.1 L758.8,264.0 L761.0,264.9 L763.3,265.9 L765.5,266.9 L767.8,268.0 L770.0,269.1 L772.2,270.3 L774.5,271.5 L776.7,272.8 L779.0,274.1 L781.2,275.5 L783.4,276.9 L785.7,278.3 L787.9,279.8 L790.2,281.3 L792.4,282.8 L794.6,284.4 L796.9,285.9 L799.1,287.5 L801.4,289.0 L803.6,290.6 L805.8,292.1 L808.1,293.7 L810.3,295.2 L812.6,296.7 L814.8,298.1 L817.0,299.5 L819.3,300.9 L821.5,302.3 L823.7,303.5 L826.0,304.6 L828.2,305.7 L830.5,306.7 L832.7,307.7 L834.9,308.6 L837.2,309.5 L839.4,310.3 L841.7,311.1 L843.9,311.8 L846.1,312.6 L848.4,313.3 L850.6,313.9 L852.9,314.6 L855.1,315.1 L857.3,315.7 L859.6,316.1 L861.8,316.6 L864.1,316.9 L866.3,317.2 L868.5,317.5 L870.8,317.7 L873.0,318.0 L875.3,318.2 L877.5,318.3 L879.7,318.5 L882.0,318.6 L884.2,318.7 L886.4,318.8 L888.7,318.8 L890.9,318.7 L893.2,318.5 L895.4,318.3 L897.6,318.1 L899.9,318.0 L902.1,317.8 L904.4,317.7 L906.6,317.6 L908.8,317.6 L911.1,317.7 L913.3,317.8 L915.6,317.9 L917.8,318.0 L920.0,318.1 L922.3,318.3 L924.5,318.4 L926.8,318.5 L929.0,318.6 L931.2,318.7 L933.5,318.9 L935.7,319.2 L938.0,319.4 L940.2,319.7 L942.4,320.0 L944.7,320.2 L946.9,320.4 L949.1,320.6 L951.4,320.8 L953.6,321.0 L955.9,321.2 L958.1,321.3 L960.3,321.4 L962.6,321.6 L964.8,321.6 L967.1,321.6 L969.3,321.6 L971.5,321.6 L973.8,321.5 L976.0,321.3 L978.3,321.0 L980.5,320.7 L982.7,320.3 L985.0,319.9 L987.2,319.4 L989.5,318.9 L991.7,318.2 L993.9,317.6 L996.2,316.9 L998.4,316.2 L1000.7,315.4 L1002.9,314.6 L1005.1,313.7 L1007.4,312.8 L1009.6,311.9 L1011.8,310.9 L1014.1,309.9 L1016.3,309.0 L1018.6,308.0 L1020.8,307.1 L1023.0,306.2 L1025.3,305.4 L1027.5,304.6 L1029.8,303.8 L1032.0,303.1 L1034.2,302.5 L1036.5,301.8 L1038.7,301.1 L1041.0,300.5 L1043.2,299.8 L1045.4,299.2 L1047.7,298.7 L1049.9,298.2 L1052.2,297.8 L1054.4,297.5 L1056.6,297.1 L1058.9,296.8 L1061.1,296.5 L1063.4,296.2 L1065.6,295.9 L1067.8,295.6 L1070.1,295.2 L1072.3,294.8 L1074.5,294.3 L1076.8,293.7 L1079.0,293.0 L1081.3,292.1 L1083.5,291.2 L1085.7,290.1 L1088.0,288.9 L1090.2,287.5 L1092.5,286.0 L1094.7,284.3 L1096.9,282.6 L1099.2,280.7 L1101.4,278.7 L1103.7,276.7 L1105.9,274.5 L1108.1,272.3 L1110.4,270.0 L1112.6,267.7 L1114.9,265.3 L1117.1,262.9 L1119.3,260.3 L1121.6,257.8 L1123.8,255.2 L1126.1,252.7 L1128.3,250.1 L1130.5,247.6 L1132.8,245.3 L1135.0,243.0 L1137.2,240.9 L1139.5,239.0 L1141.7,237.3 L1144.0,235.8 L1146.2,234.7 L1148.4,233.9 L1150.7,233.6 L1152.9,233.6 L1155.2,233.9 L1157.4,234.5" fill="none" stroke="#ff0000" stroke-width="4.8" stroke-linejoin="round" clip-path="url(#ct1)"/>
<rect x="667.0" y="38.1" width="490.4" height="423.3" fill="none" stroke="#000" stroke-width="2.3"/>
<line x1="667.0" y1="461.4" x2="667.0" y2="467.0" stroke="#000" stroke-width="2.3"/>
<text x="667.0" y="497.6" font-family='"Liberation Serif", serif' font-size="35" font-weight="normal" font-style="normal" text-anchor="middle" fill="#000">0</text>
<line x1="789.6" y1="461.4" x2="789.6" y2="467.0" stroke="#000" stroke-width="2.3"/>
<text x="789.6" y="497.6" font-family='"Liberation Serif", serif' font-size="35" font-weight="normal" font-style="normal" text-anchor="middle" fill="#000">25</text>
<line x1="912.2" y1="461.4" x2="912.2" y2="467.0" stroke="#000" stroke-width="2.3"/>
<text x="912.2" y="497.6" font-family='"Liberation Serif", serif' font-size="35" font-weight="normal" font-style="normal" text-anchor="middle" fill="#000">50</text>
<line x1="1034.8" y1="461.4" x2="1034.8" y2="467.0" stroke="#000" stroke-width="2.3"/>
<text x="1034.8" y="497.6" font-family='"Liberation Serif", serif' font-size="35" font-weight="normal" font-style="normal" text-anchor="middle" fill="#000">75</text>
<line x1="1157.4" y1="461.4" x2="1157.4" y2="467.0" stroke="#000" stroke-width="2.3"/>
<text x="1157.4" y="497.6" font-family='"Liberation Serif", serif' font-size="35" font-weight="normal" font-style="normal" text-anchor="middle" fill="#000">100</text>
<line x1="661.4" y1="429.4" x2="667.0" y2="429.4" stroke="#000" stroke-width="2.3"/>
<text x="654.4" y="442.2" font-family='"Liberation Serif", serif' font-size="35" font-weight="normal" font-style="normal" text-anchor="end" fill="#000">2</text>
<line x1="661.4" y1="336.2" x2="667.0" y2="336.2" stroke="#000" stroke-width="2.3"/>
<text x="654.4" y="349.0" font-family='"Liberation Serif", serif' font-size="35" font-weight="normal" font-style="normal" text-anchor="end" fill="#000">4</text>
<line x1="661.4" y1="243.0" x2="667.0" y2="243.0" stroke="#000" stroke-width="2.3"/>
<text x="654.4" y="255.8" font-family='"Liberation Serif", serif' font-size="35" font-weight="normal" font-style="normal" text-anchor="end" fill="#000">6</text>
<line x1="661.4" y1="149.8" x2="667.0" y2="149.8" stroke="#000" stroke-width="2.3"/>
<text x="654.4" y="162.6" font-family='"Liberation Serif", serif' font-size="35" font-weight="normal" font-style="normal" text-anchor="end" fill="#000">8</text>
<line x1="661.4" y1="56.6" x2="667.0" y2="56.6" stroke="#000" stroke-width="2.3"/>
<text x="654.4" y="69.4" font-family='"Liberation Serif", serif' font-size="35" font-weight="normal" font-style="normal" text-anchor="end" fill="#000">10</text>
<text x="912.2" y="29.3" font-family='"Liberation Serif", serif' font-size="38.7" font-weight="bold" font-style="normal" text-anchor="middle" fill="#000">Lateral (+) / Medial (-)</text>
</g>
<g>
<line x1="667.0" y1="634.9" x2="1157.4" y2="634.9" stroke="#000" stroke-width="1.85" stroke-dasharray="1.85 2.41"/>
<line x1="667.0" y1="555.8" x2="1157.4" y2="555.8" stroke="#000" stroke-width="1.8" stroke-dasharray="5.95 2.58"/>
<line x1="667.0" y1="714.0" x2="1157.4" y2="714.0" stroke="#000" stroke-width="1.8" stroke-dasharray="5.95 2.58"/>
<path d="M667.0,656.8 L669.2,656.1 L671.5,655.7 L673.7,655.5 L676.0,655.5 L678.2,655.6 L680.4,655.7 L682.7,655.9 L684.9,656.1 L687.2,656.3 L689.4,656.4 L691.6,656.4 L693.9,656.3 L696.1,656.2 L698.3,656.0 L700.6,655.7 L702.8,655.3 L705.1,655.0 L707.3,654.5 L709.5,654.1 L711.8,653.6 L714.0,653.1 L716.3,652.5 L718.5,651.9 L720.7,651.3 L723.0,650.8 L725.2,650.2 L727.5,649.5 L729.7,648.9 L731.9,648.3 L734.2,647.7 L736.4,647.1 L738.7,646.6 L740.9,646.0 L743.1,645.4 L745.4,644.9 L747.6,644.4 L749.9,643.9 L752.1,643.4 L754.3,643.0 L756.6,642.6 L758.8,642.2 L761.0,641.9 L763.3,641.6 L765.5,641.4 L767.8,641.2 L770.0,641.0 L772.2,640.9 L774.5,640.9 L776.7,640.9 L779.0,640.9 L781.2,641.1 L783.4,641.3 L785.7,641.5 L787.9,641.8 L790.2,642.2 L792.4,642.6 L794.6,643.0 L796.9,643.4 L799.1,643.9 L801.4,644.3 L803.6,644.8 L805.8,645.2 L808.1,645.6 L810.3,646.0 L812.6,646.3 L814.8,646.6 L817.0,646.8 L819.3,646.9 L821.5,647.0 L823.7,647.0 L826.0,646.9 L828.2,646.7 L830.5,646.5 L832.7,646.2 L834.9,645.8 L837.2,645.4 L839.4,645.0 L841.7,644.6 L843.9,644.1 L846.1,643.7 L848.4,643.2 L850.6,642.7 L852.9,642.3 L855.1,641.8 L857.3,641.4 L859.6,641.0 L861.8,640.6 L864.1,640.2 L866.3,639.8 L868.5,639.5 L870.8,639.2 L873.0,638.9 L875.3,638.7 L877.5,638.5 L879.7,638.4 L882.0,638.3 L884.2,638.2 L886.4,638.2 L888.7,638.3 L890.9,638.4 L893.2,638.5 L895.4,638.8 L897.6,639.1 L899.9,639.4 L902.1,639.8 L904.4,640.3 L906.6,640.9 L908.8,641.6 L911.1,642.3 L913.3,643.1 L915.6,644.0 L917.8,645.0 L920.0,646.0 L922.3,647.0 L924.5,648.1 L926.8,649.3 L929.0,650.4 L931.2,651.6 L933.5,652.8 L935.7,654.0 L938.0,655.1 L940.2,656.3 L942.4,657.4 L944.7,658.5 L946.9,659.6 L949.1,660.6 L951.4,661.6 L953.6,662.4 L955.9,663.3 L958.1,664.1 L960.3,664.8 L962.6,665.4 L964.8,666.0 L967.1,666.5 L969.3,666.9 L971.5,667.3 L973.8,667.6 L976.0,667.8 L978.3,667.9 L980.5,668.0 L982.7,668.0 L985.0,667.9 L987.2,667.8 L989.5,667.7 L991.7,667.5 L993.9,667.3 L996.2,667.0 L998.4,666.7 L1000.7,666.4 L1002.9,666.0 L1005.1,665.6 L1007.4,665.3 L1009.6,664.8 L1011.8,664.4 L1014.1,664.0 L1016.3,663.6 L1018.6,663.1 L1020.8,662.7 L1023.0,662.3 L1025.3,661.9 L1027.5,661.5 L1029.8,661.2 L1032.0,660.8 L1034.2,660.5 L1036.5,660.2 L1038.7,660.0 L1041.0,659.8 L1043.2,659.6 L1045.4,659.4 L1047.7,659.3 L1049.9,659.2 L1052.2,659.1 L1054.4,659.0 L1056.6,659.0 L1058.9,659.0 L1061.1,659.0 L1063.4,659.0 L1065.6,659.1 L1067.8,659.1 L1070.1,659.2 L1072.3,659.3 L1074.5,659.4 L1076.8,659.6 L1079.0,659.7 L1081.3,659.9 L1083.5,660.1 L1085.7,660.3 L1088.0,660.5 L1090.2,660.7 L1092.5,660.9 L1094.7,661.1 L1096.9,661.3 L1099.2,661.6 L1101.4,661.8 L1103.7,662.1 L1105.9,662.3 L1108.1,662.5 L1110.4,662.8 L1112.6,663.0 L1114.9,663.1 L1117.1,663.3 L1119.3,663.4 L1121.6,663.5 L1123.8,663.6 L1126.1,663.6 L1128.3,663.6 L1130.5,663.5 L1132.8,663.4 L1135.0,663.2 L1137.2,663.0 L1139.5,662.7 L1141.7,662.4 L1144.0,661.9 L1146.2,661.5 L1148.4,660.9 L1150.7,660.2 L1152.9,659.5 L1155.2,658.7 L1157.4,657.7" fill="none" stroke="#000" stroke-width="3.25" stroke-linejoin="round" clip-path="url(#cb1)"/>
<rect x="667.0" y="524.6" width="490.4" height="202.2" fill="none" stroke="#000" stroke-width="2.3"/>
<line x1="667.0" y1="726.8" x2="667.0" y2="732.4" stroke="#000" stroke-width="2.3"/>
<text x="667.0" y="763.0" font-family='"Liberation Serif", serif' font-size="35" font-weight="normal" font-style="normal" text-anchor="middle" fill="#000">0</text>
<line x1="789.6" y1="726.8" x2="789.6" y2="732.4" stroke="#000" stroke-width="2.3"/>
<text x="789.6" y="763.0" font-family='"Liberation Serif", serif' font-size="35" font-weight="normal" font-style="normal" text-anchor="middle" fill="#000">25</text>
<line x1="912.2" y1="726.8" x2="912.2" y2="732.4" stroke="#000" stroke-width="2.3"/>
<text x="912.2" y="763.0" font-family='"Liberation Serif", serif' font-size="35" font-weight="normal" font-style="normal" text-anchor="middle" fill="#000">50</text>
<line x1="1034.8" y1="726.8" x2="1034.8" y2="732.4" stroke="#000" stroke-width="2.3"/>
<text x="1034.8" y="763.0" font-family='"Liberation Serif", serif' font-size="35" font-weight="normal" font-style="normal" text-anchor="middle" fill="#000">75</text>
<line x1="1157.4" y1="726.8" x2="1157.4" y2="732.4" stroke="#000" stroke-width="2.3"/>
<text x="1157.4" y="763.0" font-family='"Liberation Serif", serif' font-size="35" font-weight="normal" font-style="normal" text-anchor="middle" fill="#000">100</text>
<line x1="661.4" y1="567.2" x2="667.0" y2="567.2" stroke="#000" stroke-width="2.3"/>
<text x="654.4" y="580.0" font-family='"Liberation Serif", serif' font-size="35" font-weight="normal" font-style="normal" text-anchor="end" fill="#000">2.5</text>
<line x1="661.4" y1="634.9" x2="667.0" y2="634.9" stroke="#000" stroke-width="2.3"/>
<text x="654.4" y="647.7" font-family='"Liberation Serif", serif' font-size="35" font-weight="normal" font-style="normal" text-anchor="end" fill="#000">0.0</text>
<line x1="661.4" y1="702.6" x2="667.0" y2="702.6" stroke="#000" stroke-width="2.3"/>
<text x="654.4" y="715.4" font-family='"Liberation Serif", serif' font-size="35" font-weight="normal" font-style="normal" text-anchor="end" fill="#000">-2.5</text>
<g fill="#ff0000" font-size="32.5" font-family='"Liberation Serif", serif'>
<text x="863.6" y="555.8" font-family='"DejaVu Sans", "Liberation Sans", sans-serif' font-style="italic" font-size="32.5">α</text>
<text x="883.7" y="555.8">=0.05:</text>
<text x="983.2" y="555.8" font-family='"DejaVu Sans", "Liberation Sans", sans-serif' font-style="italic" font-size="32.5">t</text>
<text x="1001.5" y="543.3" font-family='"DejaVu Sans", "Liberation Sans", sans-serif' font-size="22.75">*</text>
<text x="1016.9" y="555.8">=2.922</text>
</g>
<text x="912.2" y="811.5" font-family='"Liberation Serif", serif' font-size="38.7" font-weight="bold" font-style="normal" text-anchor="middle" fill="#000">Stance (%)</text>
</g>
<g>
<defs><path id="bp2" d="M1230.5,157.7 L1233.4,164.3 L1236.3,170.8 L1239.2,177.2 L1242.1,183.5 L1245.0,189.7 L1247.9,195.7 L1250.8,201.5 L1253.7,207.2 L1256.6,212.6 L1259.5,217.9 L1262.4,222.8 L1265.3,227.6 L1268.2,232.0 L1271.1,236.2 L1274.0,240.1 L1276.9,243.7 L1279.8,247.1 L1282.7,250.1 L1285.6,253.0 L1288.5,255.6 L1291.4,258.1 L1294.4,260.5 L1297.3,262.8 L1300.2,264.8 L1303.1,266.7 L1306.0,268.3 L1308.9,269.8 L1311.8,271.2 L1314.7,272.3 L1317.6,273.4 L1320.5,274.3 L1323.4,275.1 L1326.3,275.9 L1329.2,276.6 L1332.1,277.2 L1335.0,277.9 L1337.9,278.5 L1340.8,279.1 L1343.7,279.7 L1346.6,280.3 L1349.5,280.9 L1352.4,281.5 L1355.3,282.1 L1358.2,282.6 L1361.1,283.1 L1364.0,283.6 L1366.9,284.0 L1369.8,284.3 L1372.7,284.6 L1375.6,284.7 L1378.5,284.8 L1381.4,284.8 L1384.3,284.8 L1387.2,284.7 L1390.1,284.5 L1393.0,284.3 L1395.9,284.0 L1398.8,283.6 L1401.7,283.0 L1404.6,282.4 L1407.5,281.7 L1410.4,280.9 L1413.3,279.9 L1416.3,278.8 L1419.2,277.6 L1422.1,276.2 L1425.0,274.8 L1427.9,273.2 L1430.8,271.6 L1433.7,269.8 L1436.6,268.0 L1439.5,266.1 L1442.4,264.2 L1445.3,262.3 L1448.2,260.3 L1451.1,258.3 L1454.0,256.3 L1456.9,254.3 L1459.8,252.4 L1462.7,250.4 L1465.6,248.5 L1468.5,246.5 L1471.4,244.4 L1474.3,242.4 L1477.2,240.2 L1480.1,238.0 L1483.0,235.7 L1485.9,233.3 L1488.8,230.8 L1491.7,228.1 L1494.6,225.3 L1497.5,222.4 L1500.4,219.3 L1503.3,216.1 L1506.2,212.8 L1509.1,209.4 L1512.0,205.9 L1514.9,202.4 L1517.8,198.7 L1520.7,195.0 L1523.6,191.3 L1526.5,187.6 L1529.4,183.8 L1532.3,180.0 L1535.2,176.2 L1538.2,172.4 L1541.1,168.6 L1544.0,164.9 L1546.9,161.1 L1549.8,157.3 L1552.7,153.6 L1555.6,149.9 L1558.5,146.2 L1561.4,142.5 L1564.3,138.8 L1567.2,135.2 L1570.1,131.6 L1573.0,128.0 L1575.9,124.5 L1578.8,121.0 L1581.7,117.6 L1584.6,114.3 L1587.5,111.0 L1590.4,107.7 L1593.3,104.6 L1596.2,101.5 L1599.1,98.5 L1602.0,95.6 L1604.9,92.8 L1607.8,90.2 L1610.7,87.6 L1613.6,85.1 L1616.5,82.8 L1619.4,80.6 L1622.3,78.6 L1625.2,76.6 L1628.1,74.9 L1631.0,73.3 L1633.9,71.8 L1636.8,70.5 L1639.7,69.4 L1642.6,68.5 L1645.5,67.7 L1648.4,67.2 L1651.3,66.8 L1654.2,66.7 L1657.1,66.7 L1660.1,66.9 L1663.0,67.4 L1665.9,68.1 L1668.8,69.0 L1671.7,70.1 L1674.6,71.4 L1677.5,73.0 L1680.4,74.8 L1683.3,76.8 L1686.2,79.1 L1689.1,81.6 L1692.0,84.4 L1694.9,87.6 L1697.8,91.2 L1700.7,95.4 L1703.6,100.2 L1706.5,105.8 L1709.4,112.2 L1712.3,119.5 L1715.2,127.9 L1718.1,137.4 L1721.0,148.2 L1721.0,219.3 L1718.1,216.4 L1715.2,213.3 L1712.3,209.9 L1709.4,206.3 L1706.5,202.5 L1703.6,198.6 L1700.7,194.7 L1697.8,190.6 L1694.9,186.5 L1692.0,182.4 L1689.1,178.4 L1686.2,174.3 L1683.3,170.4 L1680.4,166.6 L1677.5,163.0 L1674.6,159.5 L1671.7,156.2 L1668.8,153.2 L1665.9,150.5 L1663.0,148.1 L1660.1,145.9 L1657.1,144.1 L1654.2,142.6 L1651.3,141.3 L1648.4,140.4 L1645.5,139.7 L1642.6,139.4 L1639.7,139.3 L1636.8,139.6 L1633.9,140.1 L1631.0,140.9 L1628.1,142.1 L1625.2,143.5 L1622.3,145.3 L1619.4,147.3 L1616.5,149.6 L1613.6,152.2 L1610.7,155.0 L1607.8,158.1 L1604.9,161.4 L1602.0,165.0 L1599.1,168.7 L1596.2,172.6 L1593.3,176.7 L1590.4,181.0 L1587.5,185.4 L1584.6,189.9 L1581.7,194.6 L1578.8,199.3 L1575.9,204.2 L1573.0,209.1 L1570.1,214.1 L1567.2,219.1 L1564.3,224.2 L1561.4,229.3 L1558.5,234.4 L1555.6,239.5 L1552.7,244.5 L1549.8,249.6 L1546.9,254.6 L1544.0,259.5 L1541.1,264.3 L1538.2,269.1 L1535.2,273.7 L1532.3,278.3 L1529.4,282.7 L1526.5,286.9 L1523.6,291.0 L1520.7,295.0 L1517.8,298.7 L1514.9,302.2 L1512.0,305.6 L1509.1,308.6 L1506.2,311.5 L1503.3,314.2 L1500.4,316.6 L1497.5,318.9 L1494.6,321.0 L1491.7,322.9 L1488.8,324.6 L1485.9,326.2 L1483.0,327.6 L1480.1,328.9 L1477.2,330.1 L1474.3,331.1 L1471.4,332.1 L1468.5,332.9 L1465.6,333.7 L1462.7,334.4 L1459.8,335.0 L1456.9,335.5 L1454.0,336.0 L1451.1,336.4 L1448.2,336.8 L1445.3,337.2 L1442.4,337.6 L1439.5,337.9 L1436.6,338.3 L1433.7,338.7 L1430.8,339.0 L1427.9,339.4 L1425.0,339.8 L1422.1,340.1 L1419.2,340.5 L1416.3,340.9 L1413.3,341.3 L1410.4,341.7 L1407.5,342.1 L1404.6,342.5 L1401.7,342.9 L1398.8,343.4 L1395.9,343.8 L1393.0,344.3 L1390.1,344.7 L1387.2,345.2 L1384.3,345.7 L1381.4,346.2 L1378.5,346.7 L1375.6,347.3 L1372.7,347.8 L1369.8,348.4 L1366.9,349.0 L1364.0,349.6 L1361.1,350.1 L1358.2,350.7 L1355.3,351.2 L1352.4,351.6 L1349.5,351.9 L1346.6,352.1 L1343.7,352.1 L1340.8,352.0 L1337.9,351.8 L1335.0,351.3 L1332.1,350.7 L1329.2,349.9 L1326.3,349.0 L1323.4,347.9 L1320.5,346.7 L1317.6,345.3 L1314.7,343.8 L1311.8,342.1 L1308.9,340.4 L1306.0,338.5 L1303.1,336.5 L1300.2,334.3 L1297.3,332.1 L1294.4,329.8 L1291.4,327.3 L1288.5,324.7 L1285.6,322.0 L1282.7,319.2 L1279.8,316.2 L1276.9,313.1 L1274.0,309.7 L1271.1,306.2 L1268.2,302.6 L1265.3,298.7 L1262.4,294.6 L1259.5,290.3 L1256.6,285.7 L1253.7,281.0 L1250.8,275.9 L1247.9,270.7 L1245.0,265.1 L1242.1,259.3 L1239.2,253.2 L1236.3,246.8 L1233.4,240.1 L1230.5,233.1Z"/><path id="rp2" d="M1230.5,156.7 L1233.4,163.8 L1236.3,169.3 L1239.2,173.7 L1242.1,177.1 L1245.0,179.7 L1247.9,181.7 L1250.8,183.4 L1253.7,185.0 L1256.6,186.6 L1259.5,188.2 L1262.4,189.8 L1265.3,191.6 L1268.2,193.5 L1271.1,195.5 L1274.0,197.8 L1276.9,200.3 L1279.8,203.0 L1282.7,205.8 L1285.6,208.7 L1288.5,211.7 L1291.4,214.8 L1294.4,217.9 L1297.3,221.1 L1300.2,224.4 L1303.1,227.8 L1306.0,231.1 L1308.9,234.3 L1311.8,237.4 L1314.7,240.4 L1317.6,243.3 L1320.5,246.2 L1323.4,249.1 L1326.3,252.0 L1329.2,254.9 L1332.1,257.8 L1335.0,260.6 L1337.9,263.3 L1340.8,265.8 L1343.7,268.2 L1346.6,270.2 L1349.5,272.1 L1352.4,273.8 L1355.3,275.4 L1358.2,276.9 L1361.1,278.3 L1364.0,279.6 L1366.9,280.9 L1369.8,282.0 L1372.7,283.0 L1375.6,283.9 L1378.5,284.7 L1381.4,285.3 L1384.3,285.9 L1387.2,286.4 L1390.1,286.8 L1393.0,287.1 L1395.9,287.3 L1398.8,287.4 L1401.7,287.4 L1404.6,287.3 L1407.5,287.2 L1410.4,287.0 L1413.3,286.8 L1416.3,286.5 L1419.2,286.1 L1422.1,285.7 L1425.0,285.2 L1427.9,284.7 L1430.8,284.2 L1433.7,283.6 L1436.6,283.0 L1439.5,282.4 L1442.4,281.8 L1445.3,281.1 L1448.2,280.5 L1451.1,279.8 L1454.0,279.2 L1456.9,278.6 L1459.8,277.9 L1462.7,277.3 L1465.6,276.7 L1468.5,276.0 L1471.4,275.2 L1474.3,274.5 L1477.2,273.6 L1480.1,272.7 L1483.0,271.6 L1485.9,270.5 L1488.8,269.2 L1491.7,267.8 L1494.6,266.3 L1497.5,264.6 L1500.4,262.8 L1503.3,260.7 L1506.2,258.5 L1509.1,256.0 L1512.0,253.4 L1514.9,250.6 L1517.8,247.6 L1520.7,244.5 L1523.6,241.1 L1526.5,237.7 L1529.4,234.1 L1532.3,230.4 L1535.2,226.6 L1538.2,222.7 L1541.1,218.7 L1544.0,214.6 L1546.9,210.4 L1549.8,206.1 L1552.7,201.8 L1555.6,197.4 L1558.5,193.0 L1561.4,188.5 L1564.3,183.9 L1567.2,179.3 L1570.1,174.6 L1573.0,169.9 L1575.9,165.1 L1578.8,160.3 L1581.7,155.4 L1584.6,150.5 L1587.5,145.6 L1590.4,140.7 L1593.3,135.8 L1596.2,130.9 L1599.1,126.1 L1602.0,121.4 L1604.9,116.8 L1607.8,112.4 L1610.7,108.0 L1613.6,103.9 L1616.5,100.0 L1619.4,96.2 L1622.3,92.7 L1625.2,89.5 L1628.1,86.5 L1631.0,83.8 L1633.9,81.4 L1636.8,79.3 L1639.7,77.4 L1642.6,75.8 L1645.5,74.4 L1648.4,73.3 L1651.3,72.5 L1654.2,71.9 L1657.1,71.5 L1660.1,71.3 L1663.0,71.3 L1665.9,71.6 L1668.8,72.1 L1671.7,72.7 L1674.6,73.6 L1677.5,74.6 L1680.4,75.9 L1683.3,77.3 L1686.2,78.8 L1689.1,80.6 L1692.0,82.5 L1694.9,84.8 L1697.8,87.5 L1700.7,90.7 L1703.6,94.7 L1706.5,99.5 L1709.4,105.3 L1712.3,112.2 L1715.2,120.3 L1718.1,129.7 L1721.0,140.7 L1721.0,302.8 L1718.1,297.1 L1715.2,291.7 L1712.3,286.7 L1709.4,282.0 L1706.5,277.6 L1703.6,273.5 L1700.7,269.7 L1697.8,266.2 L1694.9,263.1 L1692.0,260.2 L1689.1,257.7 L1686.2,255.5 L1683.3,253.5 L1680.4,251.9 L1677.5,250.6 L1674.6,249.6 L1671.7,248.9 L1668.8,248.5 L1665.9,248.4 L1663.0,248.5 L1660.1,249.0 L1657.1,249.7 L1654.2,250.6 L1651.3,251.8 L1648.4,253.3 L1645.5,254.9 L1642.6,256.8 L1639.7,258.8 L1636.8,261.1 L1633.9,263.5 L1631.0,266.0 L1628.1,268.7 L1625.2,271.6 L1622.3,274.6 L1619.4,277.7 L1616.5,280.9 L1613.6,284.1 L1610.7,287.5 L1607.8,290.9 L1604.9,294.4 L1602.0,298.0 L1599.1,301.6 L1596.2,305.2 L1593.3,308.9 L1590.4,312.7 L1587.5,316.4 L1584.6,320.2 L1581.7,324.0 L1578.8,327.8 L1575.9,331.7 L1573.0,335.5 L1570.1,339.3 L1567.2,343.2 L1564.3,347.0 L1561.4,350.8 L1558.5,354.5 L1555.6,358.3 L1552.7,362.0 L1549.8,365.6 L1546.9,369.2 L1544.0,372.8 L1541.1,376.2 L1538.2,379.6 L1535.2,382.9 L1532.3,386.0 L1529.4,389.1 L1526.5,392.0 L1523.6,394.8 L1520.7,397.5 L1517.8,400.0 L1514.9,402.4 L1512.0,404.7 L1509.1,406.9 L1506.2,409.0 L1503.3,410.9 L1500.4,412.8 L1497.5,414.5 L1494.6,416.2 L1491.7,417.7 L1488.8,419.2 L1485.9,420.6 L1483.0,421.9 L1480.1,423.2 L1477.2,424.4 L1474.3,425.5 L1471.4,426.5 L1468.5,427.5 L1465.6,428.4 L1462.7,429.2 L1459.8,430.0 L1456.9,430.7 L1454.0,431.4 L1451.1,432.0 L1448.2,432.5 L1445.3,433.0 L1442.4,433.4 L1439.5,433.7 L1436.6,434.0 L1433.7,434.3 L1430.8,434.5 L1427.9,434.6 L1425.0,434.7 L1422.1,434.8 L1419.2,434.8 L1416.3,434.7 L1413.3,434.6 L1410.4,434.5 L1407.5,434.3 L1404.6,434.1 L1401.7,433.9 L1398.8,433.6 L1395.9,433.2 L1393.0,432.9 L1390.1,432.5 L1387.2,432.0 L1384.3,431.6 L1381.4,431.1 L1378.5,430.5 L1375.6,430.0 L1372.7,429.4 L1369.8,428.8 L1366.9,428.1 L1364.0,427.5 L1361.1,426.8 L1358.2,426.1 L1355.3,425.4 L1352.4,424.6 L1349.5,423.8 L1346.6,423.1 L1343.7,422.2 L1340.8,421.4 L1337.9,420.5 L1335.0,419.6 L1332.1,418.6 L1329.2,417.6 L1326.3,416.6 L1323.4,415.4 L1320.5,414.3 L1317.6,413.1 L1314.7,411.8 L1311.8,410.4 L1308.9,409.0 L1306.0,407.5 L1303.1,406.0 L1300.2,404.3 L1297.3,402.6 L1294.4,400.8 L1291.4,398.9 L1288.5,396.9 L1285.6,394.9 L1282.7,392.8 L1279.8,390.5 L1276.9,388.3 L1274.0,385.9 L1271.1,383.5 L1268.2,380.9 L1265.3,378.3 L1262.4,375.6 L1259.5,372.8 L1256.6,369.7 L1253.7,366.4 L1250.8,362.9 L1247.9,359.0 L1245.0,354.8 L1242.1,350.3 L1239.2,345.3 L1236.3,339.8 L1233.4,333.9 L1230.5,327.5Z"/><clipPath id="bb2"><use href="#bp2"/></clipPath></defs>
<g clip-path="url(#ct2)">
<use href="#bp2" fill="none" stroke="#808080" stroke-opacity="0.32" stroke-width="1.7"/>
<use href="#rp2" fill="none" stroke="#808080" stroke-opacity="0.32" stroke-width="1.7"/>
<use href="#bp2" fill="#d8d8fa"/>
<use href="#rp2" fill="#ffd9d8"/>
<g clip-path="url(#bb2)"><use href="#rp2" fill="#eac6d9"/></g>
<clipPath id="sp2"><rect x="1481.1" y="38.1" width="152.0" height="423.3"/></clipPath>
<g clip-path="url(#sp2)">
<rect x="1481.1" y="38.1" width="152.0" height="423.3" fill="#d7d7d7"/>
<use href="#bp2" fill="none" stroke="#808080" stroke-opacity="0.32" stroke-width="1.7"/>
<use href="#rp2" fill="none" stroke="#808080" stroke-opacity="0.32" stroke-width="1.7"/>
<use href="#bp2" fill="#bdbedc"/>
<use href="#rp2" fill="#dbbebc"/>
<g clip-path="url(#bb2)"><use href="#rp2" fill="#cbb0be"/></g>
</g>
</g>
<path d="M1230.5,196.1 L1232.7,199.8 L1235.0,204.0 L1237.2,208.5 L1239.5,213.2 L1241.7,218.1 L1243.9,223.0 L1246.2,228.0 L1248.4,232.8 L1250.7,237.4 L1252.9,241.9 L1255.1,246.2 L1257.4,250.3 L1259.6,254.2 L1261.9,257.9 L1264.1,261.5 L1266.3,264.9 L1268.6,268.2 L1270.8,271.3 L1273.1,274.3 L1275.3,277.1 L1277.5,279.8 L1279.8,282.4 L1282.0,284.9 L1284.3,287.2 L1286.5,289.5 L1288.7,291.6 L1291.0,293.7 L1293.2,295.6 L1295.5,297.4 L1297.7,299.2 L1299.9,300.8 L1302.2,302.4 L1304.4,303.9 L1306.7,305.2 L1308.9,306.5 L1311.1,307.7 L1313.4,308.9 L1315.6,309.9 L1317.8,310.9 L1320.1,311.8 L1322.3,312.6 L1324.6,313.4 L1326.8,314.1 L1329.0,314.7 L1331.3,315.3 L1333.5,315.8 L1335.8,316.3 L1338.0,316.7 L1340.2,317.0 L1342.5,317.3 L1344.7,317.5 L1347.0,317.7 L1349.2,317.9 L1351.4,318.0 L1353.7,318.1 L1355.9,318.1 L1358.2,318.1 L1360.4,318.1 L1362.6,318.0 L1364.9,318.0 L1367.1,317.8 L1369.4,317.7 L1371.6,317.5 L1373.8,317.3 L1376.1,317.0 L1378.3,316.8 L1380.6,316.5 L1382.8,316.2 L1385.0,315.8 L1387.3,315.5 L1389.5,315.1 L1391.8,314.7 L1394.0,314.2 L1396.2,313.8 L1398.5,313.3 L1400.7,312.8 L1403.0,312.3 L1405.2,311.8 L1407.4,311.3 L1409.7,310.7 L1411.9,310.1 L1414.2,309.6 L1416.4,309.0 L1418.6,308.4 L1420.9,307.8 L1423.1,307.1 L1425.4,306.5 L1427.6,305.9 L1429.8,305.2 L1432.1,304.6 L1434.3,303.9 L1436.6,303.2 L1438.8,302.5 L1441.0,301.8 L1443.3,301.1 L1445.5,300.3 L1447.8,299.5 L1450.0,298.7 L1452.2,297.8 L1454.5,296.9 L1456.7,296.0 L1459.0,295.0 L1461.2,294.0 L1463.4,292.9 L1465.7,291.8 L1467.9,290.6 L1470.2,289.4 L1472.4,288.2 L1474.6,286.8 L1476.9,285.4 L1479.1,284.0 L1481.3,282.5 L1483.6,280.9 L1485.8,279.2 L1488.1,277.5 L1490.3,275.7 L1492.5,273.8 L1494.8,271.9 L1497.0,269.9 L1499.3,267.7 L1501.5,265.6 L1503.7,263.3 L1506.0,261.0 L1508.2,258.6 L1510.5,256.1 L1512.7,253.5 L1514.9,250.9 L1517.2,248.2 L1519.4,245.5 L1521.7,242.6 L1523.9,239.8 L1526.1,236.8 L1528.4,233.8 L1530.6,230.7 L1532.9,227.6 L1535.1,224.4 L1537.3,221.2 L1539.6,217.9 L1541.8,214.6 L1544.1,211.2 L1546.3,207.7 L1548.5,204.2 L1550.8,200.7 L1553.0,197.1 L1555.3,193.4 L1557.5,189.8 L1559.7,186.1 L1562.0,182.4 L1564.2,178.7 L1566.5,175.1 L1568.7,171.5 L1570.9,168.1 L1573.2,164.8 L1575.4,161.7 L1577.7,158.8 L1579.9,156.0 L1582.1,153.4 L1584.4,150.8 L1586.6,148.2 L1588.9,145.6 L1591.1,143.0 L1593.3,140.3 L1595.6,137.6 L1597.8,135.0 L1600.1,132.4 L1602.3,129.9 L1604.5,127.5 L1606.8,125.1 L1609.0,122.8 L1611.3,120.6 L1613.5,118.5 L1615.7,116.5 L1618.0,114.6 L1620.2,112.9 L1622.5,111.3 L1624.7,109.8 L1626.9,108.5 L1629.2,107.4 L1631.4,106.4 L1633.7,105.5 L1635.9,104.8 L1638.1,104.2 L1640.4,103.8 L1642.6,103.5 L1644.8,103.4 L1647.1,103.4 L1649.3,103.5 L1651.6,103.8 L1653.8,104.2 L1656.0,104.8 L1658.3,105.5 L1660.5,106.3 L1662.8,107.4 L1665.0,108.5 L1667.2,109.9 L1669.5,111.3 L1671.7,112.9 L1674.0,114.6 L1676.2,116.5 L1678.4,118.5 L1680.7,120.6 L1682.9,123.0 L1685.2,125.4 L1687.4,128.1 L1689.6,130.9 L1691.9,133.9 L1694.1,137.0 L1696.4,140.3 L1698.6,143.7 L1700.8,147.3 L1703.1,151.1 L1705.3,155.0 L1707.6,159.0 L1709.8,163.2 L1712.0,167.7 L1714.3,172.2 L1716.5,177.0 L1718.8,181.8 L1721.0,186.9" fill="none" stroke="#0000ff" stroke-width="4.8" stroke-linejoin="round" stroke-dasharray="17.9 7.73" clip-path="url(#ct2)"/>
<path d="M1230.5,236.0 L1232.7,242.8 L1235.0,248.7 L1237.2,253.8 L1239.5,258.1 L1241.7,261.8 L1243.9,265.0 L1246.2,267.8 L1248.4,270.2 L1250.7,272.3 L1252.9,274.3 L1255.1,276.2 L1257.4,278.2 L1259.6,280.1 L1261.9,282.0 L1264.1,284.0 L1266.3,286.0 L1268.6,287.9 L1270.8,289.9 L1273.1,291.8 L1275.3,293.8 L1277.5,295.8 L1279.8,297.7 L1282.0,299.7 L1284.3,301.6 L1286.5,303.6 L1288.7,305.5 L1291.0,307.4 L1293.2,309.4 L1295.5,311.3 L1297.7,313.1 L1299.9,315.0 L1302.2,316.9 L1304.4,318.7 L1306.7,320.5 L1308.9,322.3 L1311.1,324.1 L1313.4,325.8 L1315.6,327.5 L1317.8,329.2 L1320.1,330.8 L1322.3,332.4 L1324.6,334.0 L1326.8,335.6 L1329.0,337.1 L1331.3,338.5 L1333.5,340.0 L1335.8,341.4 L1338.0,342.7 L1340.2,344.0 L1342.5,345.2 L1344.7,346.4 L1347.0,347.6 L1349.2,348.7 L1351.4,349.7 L1353.7,350.7 L1355.9,351.6 L1358.2,352.5 L1360.4,353.3 L1362.6,354.0 L1364.9,354.7 L1367.1,355.4 L1369.4,356.0 L1371.6,356.5 L1373.8,357.0 L1376.1,357.5 L1378.3,357.9 L1380.6,358.3 L1382.8,358.6 L1385.0,358.9 L1387.3,359.1 L1389.5,359.3 L1391.8,359.5 L1394.0,359.7 L1396.2,359.8 L1398.5,359.8 L1400.7,359.9 L1403.0,359.9 L1405.2,359.9 L1407.4,359.9 L1409.7,359.8 L1411.9,359.8 L1414.2,359.7 L1416.4,359.5 L1418.6,359.4 L1420.9,359.3 L1423.1,359.1 L1425.4,358.9 L1427.6,358.7 L1429.8,358.5 L1432.1,358.3 L1434.3,358.1 L1436.6,357.8 L1438.8,357.6 L1441.0,357.3 L1443.3,357.0 L1445.5,356.6 L1447.8,356.3 L1450.0,355.9 L1452.2,355.5 L1454.5,355.1 L1456.7,354.6 L1459.0,354.1 L1461.2,353.6 L1463.4,353.0 L1465.7,352.4 L1467.9,351.8 L1470.2,351.1 L1472.4,350.4 L1474.6,349.6 L1476.9,348.8 L1479.1,347.9 L1481.3,347.0 L1483.6,346.1 L1485.8,345.1 L1488.1,344.1 L1490.3,343.0 L1492.5,341.8 L1494.8,340.6 L1497.0,339.3 L1499.3,338.0 L1501.5,336.6 L1503.7,335.2 L1506.0,333.7 L1508.2,332.1 L1510.5,330.4 L1512.7,328.7 L1514.9,326.9 L1517.2,325.1 L1519.4,323.1 L1521.7,321.1 L1523.9,319.0 L1526.1,316.7 L1528.4,314.5 L1530.6,312.1 L1532.9,309.6 L1535.1,307.0 L1537.3,304.4 L1539.6,301.6 L1541.8,298.7 L1544.1,295.8 L1546.3,292.7 L1548.5,289.5 L1550.8,286.3 L1553.0,283.0 L1555.3,279.6 L1557.5,276.2 L1559.7,272.8 L1562.0,269.3 L1564.2,265.8 L1566.5,262.3 L1568.7,258.7 L1570.9,255.2 L1573.2,251.7 L1575.4,248.2 L1577.7,244.8 L1579.9,241.3 L1582.1,237.9 L1584.4,234.5 L1586.6,231.1 L1588.9,227.8 L1591.1,224.7 L1593.3,221.8 L1595.6,218.9 L1597.8,216.0 L1600.1,213.2 L1602.3,210.3 L1604.5,207.5 L1606.8,204.7 L1609.0,201.9 L1611.3,199.1 L1613.5,196.3 L1615.7,193.6 L1618.0,191.0 L1620.2,188.4 L1622.5,186.0 L1624.7,183.6 L1626.9,181.3 L1629.2,179.1 L1631.4,177.0 L1633.7,175.1 L1635.9,173.2 L1638.1,171.5 L1640.4,169.8 L1642.6,168.3 L1644.8,166.9 L1647.1,165.7 L1649.3,164.5 L1651.6,163.5 L1653.8,162.6 L1656.0,161.9 L1658.3,161.3 L1660.5,160.8 L1662.8,160.5 L1665.0,160.3 L1667.2,160.3 L1669.5,160.5 L1671.7,160.8 L1674.0,161.2 L1676.2,161.8 L1678.4,162.6 L1680.7,163.6 L1682.9,164.7 L1685.2,166.0 L1687.4,167.5 L1689.6,169.2 L1691.9,171.1 L1694.1,173.2 L1696.4,175.6 L1698.6,178.3 L1700.8,181.3 L1703.1,184.6 L1705.3,188.3 L1707.6,192.5 L1709.8,197.0 L1712.0,202.1 L1714.3,207.6 L1716.5,213.7 L1718.8,220.4 L1721.0,227.6" fill="none" stroke="#ff0000" stroke-width="4.8" stroke-linejoin="round" clip-path="url(#ct2)"/>
<rect x="1230.5" y="38.1" width="490.5" height="423.3" fill="none" stroke="#000" stroke-width="2.3"/>
<line x1="1230.5" y1="461.4" x2="1230.5" y2="467.0" stroke="#000" stroke-width="2.3"/>
<text x="1230.5" y="497.6" font-family='"Liberation Serif", serif' font-size="35" font-weight="normal" font-style="normal" text-anchor="middle" fill="#000">0</text>
<line x1="1353.1" y1="461.4" x2="1353.1" y2="467.0" stroke="#000" stroke-width="2.3"/>
<text x="1353.1" y="497.6" font-family='"Liberation Serif", serif' font-size="35" font-weight="normal" font-style="normal" text-anchor="middle" fill="#000">25</text>
<line x1="1475.8" y1="461.4" x2="1475.8" y2="467.0" stroke="#000" stroke-width="2.3"/>
<text x="1475.8" y="497.6" font-family='"Liberation Serif", serif' font-size="35" font-weight="normal" font-style="normal" text-anchor="middle" fill="#000">50</text>
<line x1="1598.4" y1="461.4" x2="1598.4" y2="467.0" stroke="#000" stroke-width="2.3"/>
<text x="1598.4" y="497.6" font-family='"Liberation Serif", serif' font-size="35" font-weight="normal" font-style="normal" text-anchor="middle" fill="#000">75</text>
<line x1="1721.0" y1="461.4" x2="1721.0" y2="467.0" stroke="#000" stroke-width="2.3"/>
<text x="1721.0" y="497.6" font-family='"Liberation Serif", serif' font-size="35" font-weight="normal" font-style="normal" text-anchor="middle" fill="#000">100</text>
<line x1="1224.9" y1="446.6" x2="1230.5" y2="446.6" stroke="#000" stroke-width="2.3"/>
<text x="1217.9" y="459.4" font-family='"Liberation Serif", serif' font-size="35" font-weight="normal" font-style="normal" text-anchor="end" fill="#000">0</text>
<line x1="1224.9" y1="353.6" x2="1230.5" y2="353.6" stroke="#000" stroke-width="2.3"/>
<text x="1217.9" y="366.4" font-family='"Liberation Serif", serif' font-size="35" font-weight="normal" font-style="normal" text-anchor="end" fill="#000">5</text>
<line x1="1224.9" y1="260.6" x2="1230.5" y2="260.6" stroke="#000" stroke-width="2.3"/>
<text x="1217.9" y="273.4" font-family='"Liberation Serif", serif' font-size="35" font-weight="normal" font-style="normal" text-anchor="end" fill="#000">10</text>
<line x1="1224.9" y1="167.6" x2="1230.5" y2="167.6" stroke="#000" stroke-width="2.3"/>
<text x="1217.9" y="180.4" font-family='"Liberation Serif", serif' font-size="35" font-weight="normal" font-style="normal" text-anchor="end" fill="#000">15</text>
<line x1="1224.9" y1="74.6" x2="1230.5" y2="74.6" stroke="#000" stroke-width="2.3"/>
<text x="1217.9" y="87.4" font-family='"Liberation Serif", serif' font-size="35" font-weight="normal" font-style="normal" text-anchor="end" fill="#000">20</text>
<text x="1475.8" y="29.3" font-family='"Liberation Serif", serif' font-size="38.7" font-weight="bold" font-style="normal" text-anchor="middle" fill="#000">Superior (+) / Inferior (-)</text>
</g>
<g>
<path d="M1481.1,695.2 L1481.1,695.2 L1481.9,695.5 L1482.7,695.8 L1483.5,696.1 L1484.3,696.4 L1485.2,696.8 L1486.0,697.1 L1486.8,697.4 L1487.6,697.7 L1488.4,698.0 L1489.3,698.3 L1490.1,698.6 L1490.9,698.9 L1491.7,699.2 L1492.5,699.6 L1493.4,699.9 L1494.2,700.2 L1495.0,700.5 L1495.8,700.8 L1496.6,701.1 L1497.4,701.4 L1498.3,701.7 L1499.1,701.9 L1499.9,702.2 L1500.7,702.5 L1501.5,702.8 L1502.4,703.0 L1503.2,703.3 L1504.0,703.6 L1504.8,703.8 L1505.6,704.1 L1506.5,704.3 L1507.3,704.6 L1508.1,704.8 L1508.9,705.0 L1509.7,705.3 L1510.6,705.5 L1511.4,705.7 L1512.2,705.9 L1513.0,706.1 L1513.8,706.3 L1514.6,706.5 L1515.5,706.7 L1516.3,706.9 L1517.1,707.1 L1517.9,707.3 L1518.7,707.5 L1519.6,707.7 L1520.4,707.9 L1521.2,708.0 L1522.0,708.2 L1522.8,708.4 L1523.7,708.6 L1524.5,708.7 L1525.3,708.9 L1526.1,709.0 L1526.9,709.2 L1527.7,709.4 L1528.6,709.5 L1529.4,709.7 L1530.2,709.8 L1531.0,709.9 L1531.8,710.1 L1532.7,710.2 L1533.5,710.4 L1534.3,710.5 L1535.1,710.6 L1535.9,710.8 L1536.8,710.9 L1537.6,711.0 L1538.4,711.2 L1539.2,711.3 L1540.0,711.4 L1540.8,711.5 L1541.7,711.6 L1542.5,711.8 L1543.3,711.9 L1544.1,712.0 L1544.9,712.1 L1545.8,712.2 L1546.6,712.3 L1547.4,712.4 L1548.2,712.5 L1549.0,712.6 L1549.9,712.7 L1550.7,712.8 L1551.5,712.8 L1552.3,712.9 L1553.1,713.0 L1554.0,713.1 L1554.8,713.2 L1555.6,713.2 L1556.4,713.3 L1557.2,713.3 L1558.0,713.4 L1558.9,713.5 L1559.7,713.5 L1560.5,713.5 L1561.3,713.6 L1562.1,713.6 L1563.0,713.7 L1563.8,713.7 L1564.6,713.7 L1565.4,713.7 L1566.2,713.7 L1567.1,713.7 L1567.9,713.8 L1568.7,713.8 L1569.5,713.8 L1570.3,713.7 L1571.1,713.7 L1572.0,713.7 L1572.8,713.7 L1573.6,713.7 L1574.4,713.6 L1575.2,713.6 L1576.1,713.5 L1576.9,713.5 L1577.7,713.4 L1578.5,713.4 L1579.3,713.3 L1580.2,713.2 L1581.0,713.2 L1581.8,713.1 L1582.6,713.0 L1583.4,712.9 L1584.2,712.8 L1585.1,712.7 L1585.9,712.6 L1586.7,712.5 L1587.5,712.3 L1588.3,712.2 L1589.2,712.1 L1590.0,711.9 L1590.8,711.8 L1591.6,711.6 L1592.4,711.5 L1593.3,711.3 L1594.1,711.1 L1594.9,710.9 L1595.7,710.7 L1596.5,710.5 L1597.4,710.3 L1598.2,710.1 L1599.0,709.9 L1599.8,709.7 L1600.6,709.4 L1601.4,709.2 L1602.3,709.0 L1603.1,708.7 L1603.9,708.4 L1604.7,708.2 L1605.5,707.9 L1606.4,707.6 L1607.2,707.3 L1608.0,707.0 L1608.8,706.7 L1609.6,706.4 L1610.5,706.1 L1611.3,705.7 L1612.1,705.4 L1612.9,705.1 L1613.7,704.7 L1614.5,704.4 L1615.4,704.0 L1616.2,703.6 L1617.0,703.3 L1617.8,702.9 L1618.6,702.5 L1619.5,702.1 L1620.3,701.7 L1621.1,701.3 L1621.9,700.9 L1622.7,700.5 L1623.6,700.1 L1624.4,699.6 L1625.2,699.2 L1626.0,698.8 L1626.8,698.3 L1627.6,697.9 L1628.5,697.5 L1629.3,697.0 L1630.1,696.5 L1630.9,696.1 L1631.7,695.6 L1631.7,695.2Z" fill="#c8c8c8" stroke="none" clip-path="url(#cb2)"/>
<line x1="1230.5" y1="624.3" x2="1721.0" y2="624.3" stroke="#000" stroke-width="1.85" stroke-dasharray="1.85 2.41"/>
<line x1="1230.5" y1="553.4" x2="1721.0" y2="553.4" stroke="#000" stroke-width="1.8" stroke-dasharray="5.95 2.58"/>
<line x1="1230.5" y1="695.2" x2="1721.0" y2="695.2" stroke="#000" stroke-width="1.8" stroke-dasharray="5.95 2.58"/>
<path d="M1230.5,670.3 L1232.7,670.9 L1235.0,670.9 L1237.2,670.2 L1239.5,668.9 L1241.7,667.3 L1243.9,665.4 L1246.2,663.3 L1248.4,661.1 L1250.7,658.9 L1252.9,656.9 L1255.1,654.9 L1257.4,652.9 L1259.6,651.1 L1261.9,649.4 L1264.1,647.9 L1266.3,646.4 L1268.6,645.1 L1270.8,643.9 L1273.1,642.9 L1275.3,642.0 L1277.5,641.2 L1279.8,640.6 L1282.0,640.1 L1284.3,639.7 L1286.5,639.4 L1288.7,639.2 L1291.0,639.1 L1293.2,639.1 L1295.5,639.3 L1297.7,639.4 L1299.9,639.7 L1302.2,640.1 L1304.4,640.5 L1306.7,641.0 L1308.9,641.5 L1311.1,642.1 L1313.4,642.8 L1315.6,643.5 L1317.8,644.2 L1320.1,645.0 L1322.3,645.9 L1324.6,646.7 L1326.8,647.6 L1329.0,648.6 L1331.3,649.5 L1333.5,650.5 L1335.8,651.5 L1338.0,652.6 L1340.2,653.6 L1342.5,654.7 L1344.7,655.8 L1347.0,656.9 L1349.2,658.0 L1351.4,659.2 L1353.7,660.3 L1355.9,661.5 L1358.2,662.6 L1360.4,663.7 L1362.6,664.9 L1364.9,666.0 L1367.1,667.2 L1369.4,668.3 L1371.6,669.4 L1373.8,670.5 L1376.1,671.5 L1378.3,672.6 L1380.6,673.6 L1382.8,674.6 L1385.0,675.6 L1387.3,676.6 L1389.5,677.5 L1391.8,678.4 L1394.0,679.2 L1396.2,680.0 L1398.5,680.8 L1400.7,681.6 L1403.0,682.2 L1405.2,682.9 L1407.4,683.5 L1409.7,684.1 L1411.9,684.6 L1414.2,685.1 L1416.4,685.5 L1418.6,685.9 L1420.9,686.3 L1423.1,686.7 L1425.4,687.0 L1427.6,687.2 L1429.8,687.5 L1432.1,687.7 L1434.3,687.8 L1436.6,688.0 L1438.8,688.1 L1441.0,688.2 L1443.3,688.3 L1445.5,688.4 L1447.8,688.6 L1450.0,688.7 L1452.2,688.8 L1454.5,689.0 L1456.7,689.2 L1459.0,689.5 L1461.2,689.8 L1463.4,690.2 L1465.7,690.6 L1467.9,691.1 L1470.2,691.7 L1472.4,692.3 L1474.6,693.0 L1476.9,693.8 L1479.1,694.5 L1481.3,695.3 L1483.6,696.2 L1485.8,697.0 L1488.1,697.9 L1490.3,698.7 L1492.5,699.6 L1494.8,700.4 L1497.0,701.2 L1499.3,702.0 L1501.5,702.8 L1503.7,703.5 L1506.0,704.2 L1508.2,704.8 L1510.5,705.5 L1512.7,706.0 L1514.9,706.6 L1517.2,707.1 L1519.4,707.7 L1521.7,708.1 L1523.9,708.6 L1526.1,709.0 L1528.4,709.5 L1530.6,709.9 L1532.9,710.3 L1535.1,710.6 L1537.3,711.0 L1539.6,711.3 L1541.8,711.7 L1544.1,712.0 L1546.3,712.3 L1548.5,712.5 L1550.8,712.8 L1553.0,713.0 L1555.3,713.2 L1557.5,713.4 L1559.7,713.5 L1562.0,713.6 L1564.2,713.7 L1566.5,713.7 L1568.7,713.8 L1570.9,713.7 L1573.2,713.7 L1575.4,713.6 L1577.7,713.4 L1579.9,713.3 L1582.1,713.1 L1584.4,712.8 L1586.6,712.5 L1588.9,712.1 L1591.1,711.7 L1593.3,711.3 L1595.6,710.8 L1597.8,710.2 L1600.1,709.6 L1602.3,708.9 L1604.5,708.2 L1606.8,707.5 L1609.0,706.6 L1611.3,705.7 L1613.5,704.8 L1615.7,703.8 L1618.0,702.8 L1620.2,701.7 L1622.5,700.6 L1624.7,699.5 L1626.9,698.3 L1629.2,697.1 L1631.4,695.8 L1633.7,694.5 L1635.9,693.2 L1638.1,691.9 L1640.4,690.5 L1642.6,689.1 L1644.8,687.7 L1647.1,686.3 L1649.3,684.8 L1651.6,683.4 L1653.8,681.9 L1656.0,680.4 L1658.3,678.9 L1660.5,677.5 L1662.8,676.0 L1665.0,674.5 L1667.2,673.0 L1669.5,671.5 L1671.7,670.0 L1674.0,668.5 L1676.2,667.0 L1678.4,665.6 L1680.7,664.2 L1682.9,662.9 L1685.2,661.6 L1687.4,660.5 L1689.6,659.4 L1691.9,658.4 L1694.1,657.6 L1696.4,656.9 L1698.6,656.4 L1700.8,656.0 L1703.1,655.8 L1705.3,655.7 L1707.6,656.0 L1709.8,656.5 L1712.0,657.3 L1714.3,658.6 L1716.5,660.3 L1718.8,662.4 L1721.0,665.2" fill="none" stroke="#000" stroke-width="3.25" stroke-linejoin="round" clip-path="url(#cb2)"/>
<rect x="1230.5" y="524.6" width="490.5" height="202.2" fill="none" stroke="#000" stroke-width="2.3"/>
<line x1="1230.5" y1="726.8" x2="1230.5" y2="732.4" stroke="#000" stroke-width="2.3"/>
<text x="1230.5" y="763.0" font-family='"Liberation Serif", serif' font-size="35" font-weight="normal" font-style="normal" text-anchor="middle" fill="#000">0</text>
<line x1="1353.1" y1="726.8" x2="1353.1" y2="732.4" stroke="#000" stroke-width="2.3"/>
<text x="1353.1" y="763.0" font-family='"Liberation Serif", serif' font-size="35" font-weight="normal" font-style="normal" text-anchor="middle" fill="#000">25</text>
<line x1="1475.8" y1="726.8" x2="1475.8" y2="732.4" stroke="#000" stroke-width="2.3"/>
<text x="1475.8" y="763.0" font-family='"Liberation Serif", serif' font-size="35" font-weight="normal" font-style="normal" text-anchor="middle" fill="#000">50</text>
<line x1="1598.4" y1="726.8" x2="1598.4" y2="732.4" stroke="#000" stroke-width="2.3"/>
<text x="1598.4" y="763.0" font-family='"Liberation Serif", serif' font-size="35" font-weight="normal" font-style="normal" text-anchor="middle" fill="#000">75</text>
<line x1="1721.0" y1="726.8" x2="1721.0" y2="732.4" stroke="#000" stroke-width="2.3"/>
<text x="1721.0" y="763.0" font-family='"Liberation Serif", serif' font-size="35" font-weight="normal" font-style="normal" text-anchor="middle" fill="#000">100</text>
<line x1="1224.9" y1="562.0" x2="1230.5" y2="562.0" stroke="#000" stroke-width="2.3"/>
<text x="1217.9" y="574.8" font-family='"Liberation Serif", serif' font-size="35" font-weight="normal" font-style="normal" text-anchor="end" fill="#000">2.5</text>
<line x1="1224.9" y1="624.3" x2="1230.5" y2="624.3" stroke="#000" stroke-width="2.3"/>
<text x="1217.9" y="637.1" font-family='"Liberation Serif", serif' font-size="35" font-weight="normal" font-style="normal" text-anchor="end" fill="#000">0.0</text>
<line x1="1224.9" y1="686.6" x2="1230.5" y2="686.6" stroke="#000" stroke-width="2.3"/>
<text x="1217.9" y="699.4" font-family='"Liberation Serif", serif' font-size="35" font-weight="normal" font-style="normal" text-anchor="end" fill="#000">-2.5</text>
<g fill="#ff0000" font-size="32.5" font-family='"Liberation Serif", serif'>
<text x="1427.1" y="553.4" font-family='"DejaVu Sans", "Liberation Sans", sans-serif' font-style="italic" font-size="32.5">α</text>
<text x="1447.2" y="553.4">=0.05:</text>
<text x="1546.7" y="553.4" font-family='"DejaVu Sans", "Liberation Sans", sans-serif' font-style="italic" font-size="32.5">t</text>
<text x="1565.0" y="540.9" font-family='"DejaVu Sans", "Liberation Sans", sans-serif' font-size="22.75">*</text>
<text x="1580.4" y="553.4">=2.845</text>
</g>
<text x="1494.3" y="679.5" font-size="35" fill="#000" font-family='"Liberation Serif", serif' style="white-space:pre" xml:space="preserve"><tspan font-style="italic">p</tspan> = 0.007</text>
<text x="1475.8" y="811.5" font-family='"Liberation Serif", serif' font-size="38.7" font-weight="bold" font-style="normal" text-anchor="middle" fill="#000">Stance (%)</text>
</g>
<text transform="translate(31.2,250.4) rotate(-90)" font-family='"Liberation Serif", serif' font-size="38.7" font-weight="bold" text-anchor="middle">Translation (mm)</text>
<text transform="translate(31.0,628.0) rotate(-90)" font-family='"Liberation Serif", serif' font-size="38.7" font-weight="bold" text-anchor="middle">SPM{t}</text>
<line x1="698.3" y1="862.4" x2="776.3" y2="862.4" stroke="#0000ff" stroke-width="4.8" stroke-dasharray="17.9 7.73"/>
<text x="807.0" y="875.2" font-family='"Liberation Serif", serif' font-size="38.7" font-weight="normal" font-style="normal" text-anchor="start" fill="#000">FFS</text>
<line x1="946" y1="862.4" x2="1028.6" y2="862.4" stroke="#ff0000" stroke-width="4.8"/>
<text x="1057.5" y="875.2" font-family='"Liberation Serif", serif' font-size="38.7" font-weight="normal" font-style="normal" text-anchor="start" fill="#000">RFS</text>
</svg>
</body>
</html>
